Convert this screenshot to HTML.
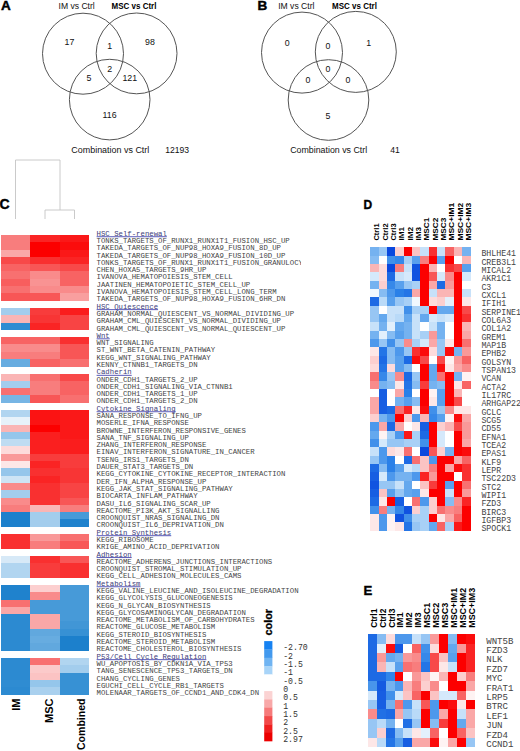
<!DOCTYPE html><html><head><meta charset="utf-8"><style>
html,body{margin:0;padding:0;background:#fff;}
body{width:520px;height:751px;overflow:hidden;position:relative;}
svg{position:absolute;left:0;top:0;}
.s{font-family:"Liberation Sans",sans-serif;}
.m{font-family:"Liberation Mono",monospace;}
</style></head><body>
<svg width="520" height="751" viewBox="0 0 520 751">
<circle cx="83" cy="53.7" r="40.5" fill="none" stroke="#555" stroke-width="1.0"/>
<circle cx="136.6" cy="53.4" r="40.4" fill="none" stroke="#555" stroke-width="1.0"/>
<circle cx="109.7" cy="99.6" r="40.3" fill="none" stroke="#555" stroke-width="1.0"/>
<circle cx="302" cy="52.6" r="40.5" fill="none" stroke="#555" stroke-width="1.0"/>
<circle cx="355.8" cy="51.9" r="40.5" fill="none" stroke="#555" stroke-width="1.0"/>
<circle cx="328.5" cy="100" r="40.3" fill="none" stroke="#555" stroke-width="1.0"/>
<text x="0.9" y="9.5" class="s" font-size="13.5" font-weight="bold" text-anchor="start" fill="#000" stroke="#000" stroke-width="0.45">A</text>
<text x="257.4" y="9.6" class="s" font-size="13.5" font-weight="bold" text-anchor="start" fill="#000" stroke="#000" stroke-width="0.45">B</text>
<text x="-0.5" y="208.8" class="s" font-size="14" font-weight="bold" text-anchor="start" fill="#000" stroke="#000" stroke-width="0.4">C</text>
<text x="363.5" y="209" class="s" font-size="12" font-weight="bold" text-anchor="start" fill="#000" stroke="#000" stroke-width="0.35">D</text>
<text x="363.6" y="595.2" class="s" font-size="13.2" font-weight="bold" text-anchor="start" fill="#000" stroke="#000" stroke-width="0.35">E</text>
<text x="58.5" y="8.5" class="s" font-size="8.6" font-weight="normal" text-anchor="start" fill="#111" >IM vs Ctrl</text>
<text x="111.6" y="8.8" class="s" font-size="8.9" font-weight="bold" text-anchor="start" fill="#000" textLength="44.8" lengthAdjust="spacingAndGlyphs">MSC vs Ctrl</text>
<text x="69.5" y="45.4" class="s" font-size="8.8" font-weight="normal" text-anchor="middle" fill="#111" >17</text>
<text x="109.6" y="48.5" class="s" font-size="8.8" font-weight="normal" text-anchor="middle" fill="#111" >1</text>
<text x="150" y="45.4" class="s" font-size="8.8" font-weight="normal" text-anchor="middle" fill="#111" >98</text>
<text x="109.6" y="71.6" class="s" font-size="8.8" font-weight="normal" text-anchor="middle" fill="#111" >2</text>
<text x="89" y="81.39999999999999" class="s" font-size="8.8" font-weight="normal" text-anchor="middle" fill="#111" >5</text>
<text x="129.8" y="81.39999999999999" class="s" font-size="8.8" font-weight="normal" text-anchor="middle" fill="#111" >121</text>
<text x="109.6" y="118.3" class="s" font-size="8.8" font-weight="normal" text-anchor="middle" fill="#111" >116</text>
<text x="71.3" y="153.2" class="s" font-size="8.9" font-weight="normal" text-anchor="start" fill="#111" textLength="78" lengthAdjust="spacingAndGlyphs">Combination vs Ctrl</text>
<text x="165.2" y="153.2" class="s" font-size="8.6" font-weight="normal" text-anchor="start" fill="#111" >12193</text>
<text x="278.2" y="8.7" class="s" font-size="8.6" font-weight="normal" text-anchor="start" fill="#111" >IM vs Ctrl</text>
<text x="332.1" y="8.8" class="s" font-size="8.9" font-weight="bold" text-anchor="start" fill="#000" textLength="44.8" lengthAdjust="spacingAndGlyphs">MSC vs Ctrl</text>
<text x="287.3" y="46.1" class="s" font-size="8.8" font-weight="normal" text-anchor="middle" fill="#111" >0</text>
<text x="328" y="48.6" class="s" font-size="8.8" font-weight="normal" text-anchor="middle" fill="#111" >0</text>
<text x="368.8" y="46.1" class="s" font-size="8.8" font-weight="normal" text-anchor="middle" fill="#111" >1</text>
<text x="328" y="72.3" class="s" font-size="8.8" font-weight="normal" text-anchor="middle" fill="#111" >0</text>
<text x="308" y="82.5" class="s" font-size="8.8" font-weight="normal" text-anchor="middle" fill="#111" >0</text>
<text x="348" y="82.5" class="s" font-size="8.8" font-weight="normal" text-anchor="middle" fill="#111" >0</text>
<text x="328" y="118.5" class="s" font-size="8.8" font-weight="normal" text-anchor="middle" fill="#111" >5</text>
<text x="290.2" y="153.3" class="s" font-size="8.9" font-weight="normal" text-anchor="start" fill="#111" textLength="77" lengthAdjust="spacingAndGlyphs">Combination vs Ctrl</text>
<text x="390.3" y="153.3" class="s" font-size="8.6" font-weight="normal" text-anchor="start" fill="#111" >41</text>
<path d="M15.5 219 V160 H60 V210 M45 219 V210 H74.5 V219" stroke="#c4c4c4" stroke-width="0.9" fill="none"/>
<g shape-rendering="crispEdges"><rect x="1.00" y="235.00" width="29.60" height="7.59" fill="#f87d7d"/><rect x="30.30" y="235.00" width="29.60" height="7.59" fill="#fa2424"/><rect x="59.60" y="235.00" width="29.60" height="7.59" fill="#fa1818"/><rect x="1.00" y="242.29" width="29.60" height="7.59" fill="#f87d7d"/><rect x="30.30" y="242.29" width="29.60" height="7.59" fill="#fc0000"/><rect x="59.60" y="242.29" width="29.60" height="7.59" fill="#fb0c0c"/><rect x="1.00" y="249.58" width="29.60" height="7.59" fill="#faa7a7"/><rect x="30.30" y="249.58" width="29.60" height="7.59" fill="#fc0000"/><rect x="59.60" y="249.58" width="29.60" height="7.59" fill="#fa1818"/><rect x="1.00" y="256.88" width="29.60" height="7.59" fill="#f84949"/><rect x="30.30" y="256.88" width="29.60" height="7.59" fill="#f93030"/><rect x="59.60" y="256.88" width="29.60" height="7.59" fill="#fa2424"/><rect x="1.00" y="264.17" width="29.60" height="7.59" fill="#f86363"/><rect x="30.30" y="264.17" width="29.60" height="7.59" fill="#f85656"/><rect x="59.60" y="264.17" width="29.60" height="7.59" fill="#f84949"/><rect x="1.00" y="271.46" width="29.60" height="7.59" fill="#f87070"/><rect x="30.30" y="271.46" width="29.60" height="7.59" fill="#f98b8b"/><rect x="59.60" y="271.46" width="29.60" height="7.59" fill="#f86363"/><rect x="1.00" y="278.75" width="29.60" height="7.59" fill="#f85e5e"/><rect x="30.30" y="278.75" width="29.60" height="7.59" fill="#f99393"/><rect x="59.60" y="278.75" width="29.60" height="7.59" fill="#f86363"/><rect x="1.00" y="286.04" width="29.60" height="7.59" fill="#f87070"/><rect x="30.30" y="286.04" width="29.60" height="7.59" fill="#f98b8b"/><rect x="59.60" y="286.04" width="29.60" height="7.59" fill="#f98b8b"/><rect x="1.00" y="293.34" width="29.60" height="7.59" fill="#f85656"/><rect x="30.30" y="293.34" width="29.60" height="7.59" fill="#f85656"/><rect x="59.60" y="293.34" width="29.60" height="7.59" fill="#f99f9f"/><rect x="1.00" y="307.92" width="29.60" height="7.59" fill="#a3cded"/><rect x="30.30" y="307.92" width="29.60" height="7.59" fill="#f83c3c"/><rect x="59.60" y="307.92" width="29.60" height="7.59" fill="#fa1d1d"/><rect x="1.00" y="315.21" width="29.60" height="7.59" fill="#fab5b5"/><rect x="30.30" y="315.21" width="29.60" height="7.59" fill="#f83535"/><rect x="59.60" y="315.21" width="29.60" height="7.59" fill="#f84444"/><rect x="1.00" y="322.50" width="29.60" height="7.59" fill="#2f8cd2"/><rect x="30.30" y="322.50" width="29.60" height="7.59" fill="#fa2424"/><rect x="59.60" y="322.50" width="29.60" height="7.59" fill="#f84444"/><rect x="1.00" y="337.09" width="29.60" height="7.59" fill="#f86363"/><rect x="30.30" y="337.09" width="29.60" height="7.59" fill="#f86363"/><rect x="59.60" y="337.09" width="29.60" height="7.59" fill="#f93030"/><rect x="1.00" y="344.38" width="29.60" height="7.59" fill="#f98b8b"/><rect x="30.30" y="344.38" width="29.60" height="7.59" fill="#f98b8b"/><rect x="59.60" y="344.38" width="29.60" height="7.59" fill="#f85656"/><rect x="1.00" y="351.67" width="29.60" height="7.59" fill="#f87d7d"/><rect x="30.30" y="351.67" width="29.60" height="7.59" fill="#f87d7d"/><rect x="59.60" y="351.67" width="29.60" height="7.59" fill="#f85656"/><rect x="1.00" y="358.96" width="29.60" height="7.59" fill="#67ace0"/><rect x="30.30" y="358.96" width="29.60" height="7.59" fill="#f86363"/><rect x="59.60" y="358.96" width="29.60" height="7.59" fill="#f87070"/><rect x="1.00" y="373.55" width="29.60" height="7.59" fill="#fab5b5"/><rect x="30.30" y="373.55" width="29.60" height="7.59" fill="#f87070"/><rect x="59.60" y="373.55" width="29.60" height="7.59" fill="#f84949"/><rect x="1.00" y="380.84" width="29.60" height="7.59" fill="#a3cded"/><rect x="30.30" y="380.84" width="29.60" height="7.59" fill="#f87d7d"/><rect x="59.60" y="380.84" width="29.60" height="7.59" fill="#f86363"/><rect x="1.00" y="388.13" width="29.60" height="7.59" fill="#f87070"/><rect x="30.30" y="388.13" width="29.60" height="7.59" fill="#f87d7d"/><rect x="59.60" y="388.13" width="29.60" height="7.59" fill="#f86363"/><rect x="1.00" y="395.42" width="29.60" height="7.59" fill="#77b5e4"/><rect x="30.30" y="395.42" width="29.60" height="7.59" fill="#f85656"/><rect x="59.60" y="395.42" width="29.60" height="7.59" fill="#f87070"/><rect x="1.00" y="410.01" width="29.60" height="7.59" fill="#b1d5f0"/><rect x="30.30" y="410.01" width="29.60" height="7.59" fill="#fb1313"/><rect x="59.60" y="410.01" width="29.60" height="7.59" fill="#fa1818"/><rect x="1.00" y="417.30" width="29.60" height="7.59" fill="#e7f2fa"/><rect x="30.30" y="417.30" width="29.60" height="7.59" fill="#fb1313"/><rect x="59.60" y="417.30" width="29.60" height="7.59" fill="#fa1818"/><rect x="1.00" y="424.59" width="29.60" height="7.59" fill="#fab5b5"/><rect x="30.30" y="424.59" width="29.60" height="7.59" fill="#fc0000"/><rect x="59.60" y="424.59" width="29.60" height="7.59" fill="#fa1818"/><rect x="1.00" y="431.88" width="29.60" height="7.59" fill="#95c6eb"/><rect x="30.30" y="431.88" width="29.60" height="7.59" fill="#fa1f1f"/><rect x="59.60" y="431.88" width="29.60" height="7.59" fill="#fa1818"/><rect x="1.00" y="439.18" width="29.60" height="7.59" fill="#bfdcf2"/><rect x="30.30" y="439.18" width="29.60" height="7.59" fill="#fa1f1f"/><rect x="59.60" y="439.18" width="29.60" height="7.59" fill="#fa1d1d"/><rect x="1.00" y="446.47" width="29.60" height="7.59" fill="#fddbdb"/><rect x="30.30" y="446.47" width="29.60" height="7.59" fill="#fa1f1f"/><rect x="59.60" y="446.47" width="29.60" height="7.59" fill="#fa1d1d"/><rect x="1.00" y="453.76" width="29.60" height="7.59" fill="#f99999"/><rect x="30.30" y="453.76" width="29.60" height="7.59" fill="#f83c3c"/><rect x="59.60" y="453.76" width="29.60" height="7.59" fill="#f83c3c"/><rect x="1.00" y="461.05" width="29.60" height="7.59" fill="#fde7e7"/><rect x="30.30" y="461.05" width="29.60" height="7.59" fill="#fa2424"/><rect x="59.60" y="461.05" width="29.60" height="7.59" fill="#f83c3c"/><rect x="1.00" y="468.34" width="29.60" height="7.59" fill="#95c6eb"/><rect x="30.30" y="468.34" width="29.60" height="7.59" fill="#f93030"/><rect x="59.60" y="468.34" width="29.60" height="7.59" fill="#f83535"/><rect x="1.00" y="475.64" width="29.60" height="7.59" fill="#cde4f5"/><rect x="30.30" y="475.64" width="29.60" height="7.59" fill="#fa2424"/><rect x="59.60" y="475.64" width="29.60" height="7.59" fill="#f83535"/><rect x="1.00" y="482.93" width="29.60" height="7.59" fill="#f98b8b"/><rect x="30.30" y="482.93" width="29.60" height="7.59" fill="#f93030"/><rect x="59.60" y="482.93" width="29.60" height="7.59" fill="#f84444"/><rect x="1.00" y="490.22" width="29.60" height="7.59" fill="#a3cded"/><rect x="30.30" y="490.22" width="29.60" height="7.59" fill="#f93030"/><rect x="59.60" y="490.22" width="29.60" height="7.59" fill="#f84444"/><rect x="1.00" y="497.51" width="29.60" height="7.59" fill="#f98b8b"/><rect x="30.30" y="497.51" width="29.60" height="7.59" fill="#f93030"/><rect x="59.60" y="497.51" width="29.60" height="7.59" fill="#f85656"/><rect x="1.00" y="504.80" width="29.60" height="7.59" fill="#f87d7d"/><rect x="30.30" y="504.80" width="29.60" height="7.59" fill="#fab5b5"/><rect x="59.60" y="504.80" width="29.60" height="7.59" fill="#f87d7d"/><rect x="1.00" y="512.10" width="29.60" height="7.59" fill="#1c80cc"/><rect x="30.30" y="512.10" width="29.60" height="7.59" fill="#a3cded"/><rect x="59.60" y="512.10" width="29.60" height="7.59" fill="#479ad8"/><rect x="1.00" y="519.39" width="29.60" height="7.59" fill="#1c80cc"/><rect x="30.30" y="519.39" width="29.60" height="7.59" fill="#a3cded"/><rect x="59.60" y="519.39" width="29.60" height="7.59" fill="#1f82cd"/><rect x="1.00" y="533.97" width="29.60" height="7.59" fill="#f93030"/><rect x="30.30" y="533.97" width="29.60" height="7.59" fill="#f99999"/><rect x="59.60" y="533.97" width="29.60" height="7.59" fill="#f87070"/><rect x="1.00" y="541.26" width="29.60" height="7.59" fill="#f93030"/><rect x="30.30" y="541.26" width="29.60" height="7.59" fill="#f87d7d"/><rect x="59.60" y="541.26" width="29.60" height="7.59" fill="#f85656"/><rect x="1.00" y="555.85" width="29.60" height="7.59" fill="#d7e9f7"/><rect x="30.30" y="555.85" width="29.60" height="7.59" fill="#f93030"/><rect x="59.60" y="555.85" width="29.60" height="7.59" fill="#f85656"/><rect x="1.00" y="563.14" width="29.60" height="7.59" fill="#b1d5f0"/><rect x="30.30" y="563.14" width="29.60" height="7.59" fill="#f83c3c"/><rect x="59.60" y="563.14" width="29.60" height="7.59" fill="#f93030"/><rect x="1.00" y="570.43" width="29.60" height="7.59" fill="#b1d5f0"/><rect x="30.30" y="570.43" width="29.60" height="7.59" fill="#f83c3c"/><rect x="59.60" y="570.43" width="29.60" height="7.59" fill="#f93030"/><rect x="1.00" y="585.02" width="29.60" height="7.59" fill="#1f82cd"/><rect x="30.30" y="585.02" width="29.60" height="7.59" fill="#fccfcf"/><rect x="59.60" y="585.02" width="29.60" height="7.59" fill="#479ad8"/><rect x="1.00" y="592.31" width="29.60" height="7.59" fill="#1f82cd"/><rect x="30.30" y="592.31" width="29.60" height="7.59" fill="#f98b8b"/><rect x="59.60" y="592.31" width="29.60" height="7.59" fill="#479ad8"/><rect x="1.00" y="599.60" width="29.60" height="7.59" fill="#f87070"/><rect x="30.30" y="599.60" width="29.60" height="7.59" fill="#479ad8"/><rect x="59.60" y="599.60" width="29.60" height="7.59" fill="#479ad8"/><rect x="1.00" y="606.89" width="29.60" height="7.59" fill="#faa7a7"/><rect x="30.30" y="606.89" width="29.60" height="7.59" fill="#479ad8"/><rect x="59.60" y="606.89" width="29.60" height="7.59" fill="#479ad8"/><rect x="1.00" y="614.18" width="29.60" height="7.59" fill="#2c8ad1"/><rect x="30.30" y="614.18" width="29.60" height="7.59" fill="#faa7a7"/><rect x="59.60" y="614.18" width="29.60" height="7.59" fill="#479ad8"/><rect x="1.00" y="621.48" width="29.60" height="7.59" fill="#2c8ad1"/><rect x="30.30" y="621.48" width="29.60" height="7.59" fill="#faa7a7"/><rect x="59.60" y="621.48" width="29.60" height="7.59" fill="#4196d6"/><rect x="1.00" y="628.77" width="29.60" height="7.59" fill="#2c8ad1"/><rect x="30.30" y="628.77" width="29.60" height="7.59" fill="#61a8de"/><rect x="59.60" y="628.77" width="29.60" height="7.59" fill="#3791d4"/><rect x="1.00" y="636.06" width="29.60" height="7.59" fill="#2c8ad1"/><rect x="30.30" y="636.06" width="29.60" height="7.59" fill="#67ace0"/><rect x="59.60" y="636.06" width="29.60" height="7.59" fill="#1c80cc"/><rect x="1.00" y="643.35" width="29.60" height="7.59" fill="#2c8ad1"/><rect x="30.30" y="643.35" width="29.60" height="7.59" fill="#61a8de"/><rect x="59.60" y="643.35" width="29.60" height="7.59" fill="#1c80cc"/><rect x="1.00" y="657.94" width="29.60" height="7.59" fill="#2c8ad1"/><rect x="30.30" y="657.94" width="29.60" height="7.59" fill="#f87070"/><rect x="59.60" y="657.94" width="29.60" height="7.59" fill="#b1d5f0"/><rect x="1.00" y="665.23" width="29.60" height="7.59" fill="#2c8ad1"/><rect x="30.30" y="665.23" width="29.60" height="7.59" fill="#fbcaca"/><rect x="59.60" y="665.23" width="29.60" height="7.59" fill="#a3cded"/><rect x="1.00" y="672.52" width="29.60" height="7.59" fill="#2c8ad1"/><rect x="30.30" y="672.52" width="29.60" height="7.59" fill="#fbc3c3"/><rect x="59.60" y="672.52" width="29.60" height="7.59" fill="#3791d4"/><rect x="1.00" y="679.81" width="29.60" height="7.59" fill="#2f8cd2"/><rect x="30.30" y="679.81" width="29.60" height="7.59" fill="#95c6eb"/><rect x="59.60" y="679.81" width="29.60" height="7.59" fill="#3791d4"/><rect x="1.00" y="687.10" width="29.60" height="7.59" fill="#2c8ad1"/><rect x="30.30" y="687.10" width="29.60" height="7.59" fill="#a9d0ee"/><rect x="59.60" y="687.10" width="29.60" height="7.59" fill="#3791d4"/></g>
<svg x="0" y="0" width="301" height="751" overflow="hidden"><text x="96.6" y="235.70" class="m" font-size="6.6" fill="#3c3c78" textLength="70.24" lengthAdjust="spacingAndGlyphs">HSC Self-renewal</text><rect x="96.6" y="236.30" width="70.24" height="0.9" fill="#4848b0"/><text x="96.6" y="242.99" class="m" font-size="6.6" fill="#444" textLength="193.16" lengthAdjust="spacingAndGlyphs">TONKS_TARGETS_OF_RUNX1_RUNX1T1_FUSION_HSC_UP</text><text x="96.6" y="250.28" class="m" font-size="6.6" fill="#444" textLength="184.38" lengthAdjust="spacingAndGlyphs">TAKEDA_TARGETS_OF_NUP98_HOXA9_FUSION_8D_UP</text><text x="96.6" y="257.58" class="m" font-size="6.6" fill="#444" textLength="188.77" lengthAdjust="spacingAndGlyphs">TAKEDA_TARGETS_OF_NUP98_HOXA9_FUSION_10D_UP</text><text x="96.6" y="264.87" class="m" font-size="6.6" fill="#444" textLength="228.28" lengthAdjust="spacingAndGlyphs">TONKS_TARGETS_OF_RUNX1_RUNX1T1_FUSION_GRANULOCYTE_UP</text><text x="96.6" y="272.16" class="m" font-size="6.6" fill="#444" textLength="109.75" lengthAdjust="spacingAndGlyphs">CHEN_HOXA5_TARGETS_9HR_UP</text><text x="96.6" y="279.45" class="m" font-size="6.6" fill="#444" textLength="136.09" lengthAdjust="spacingAndGlyphs">IVANOVA_HEMATOPOIESIS_STEM_CELL</text><text x="96.6" y="286.74" class="m" font-size="6.6" fill="#444" textLength="153.65" lengthAdjust="spacingAndGlyphs">JAATINEN_HEMATOPOIETIC_STEM_CELL_UP</text><text x="96.6" y="294.04" class="m" font-size="6.6" fill="#444" textLength="179.99" lengthAdjust="spacingAndGlyphs">IVANOVA_HEMATOPOIESIS_STEM_CELL_LONG_TERM</text><text x="96.6" y="301.33" class="m" font-size="6.6" fill="#444" textLength="188.77" lengthAdjust="spacingAndGlyphs">TAKEDA_TARGETS_OF_NUP98_HOXA9_FUSION_6HR_DN</text><text x="96.6" y="308.62" class="m" font-size="6.6" fill="#3c3c78" textLength="61.46" lengthAdjust="spacingAndGlyphs">HSC Quiescence</text><rect x="96.6" y="309.22" width="61.46" height="0.9" fill="#4848b0"/><text x="96.6" y="315.91" class="m" font-size="6.6" fill="#444" textLength="197.55" lengthAdjust="spacingAndGlyphs">GRAHAM_NORMAL_QUIESCENT_VS_NORMAL_DIVIDING_UP</text><text x="96.6" y="323.20" class="m" font-size="6.6" fill="#444" textLength="184.38" lengthAdjust="spacingAndGlyphs">GRAHAM_CML_QUIESCENT_VS_NORMAL_DIVIDING_UP</text><text x="96.6" y="330.50" class="m" font-size="6.6" fill="#444" textLength="188.77" lengthAdjust="spacingAndGlyphs">GRAHAM_CML_QUIESCENT_VS_NORMAL_QUIESCENT_UP</text><text x="96.6" y="337.79" class="m" font-size="6.6" fill="#3c3c78" textLength="13.17" lengthAdjust="spacingAndGlyphs">Wnt</text><rect x="96.6" y="338.39" width="13.17" height="0.9" fill="#4848b0"/><text x="96.6" y="345.08" class="m" font-size="6.6" fill="#444" textLength="57.07" lengthAdjust="spacingAndGlyphs">WNT_SIGNALING</text><text x="96.6" y="352.37" class="m" font-size="6.6" fill="#444" textLength="118.53" lengthAdjust="spacingAndGlyphs">ST_WNT_BETA_CATENIN_PATHWAY</text><text x="96.6" y="359.66" class="m" font-size="6.6" fill="#444" textLength="114.14" lengthAdjust="spacingAndGlyphs">KEGG_WNT_SIGNALING_PATHWAY</text><text x="96.6" y="366.96" class="m" font-size="6.6" fill="#444" textLength="100.97" lengthAdjust="spacingAndGlyphs">KENNY_CTNNB1_TARGETS_DN</text><text x="96.6" y="374.25" class="m" font-size="6.6" fill="#3c3c78" textLength="35.12" lengthAdjust="spacingAndGlyphs">Cadherin</text><rect x="96.6" y="374.85" width="35.12" height="0.9" fill="#4848b0"/><text x="96.6" y="381.54" class="m" font-size="6.6" fill="#444" textLength="100.97" lengthAdjust="spacingAndGlyphs">ONDER_CDH1_TARGETS_2_UP</text><text x="96.6" y="388.83" class="m" font-size="6.6" fill="#444" textLength="136.09" lengthAdjust="spacingAndGlyphs">ONDER_CDH1_SIGNALING_VIA_CTNNB1</text><text x="96.6" y="396.12" class="m" font-size="6.6" fill="#444" textLength="100.97" lengthAdjust="spacingAndGlyphs">ONDER_CDH1_TARGETS_1_UP</text><text x="96.6" y="403.42" class="m" font-size="6.6" fill="#444" textLength="100.97" lengthAdjust="spacingAndGlyphs">ONDER_CDH1_TARGETS_2_DN</text><text x="96.6" y="410.71" class="m" font-size="6.6" fill="#3c3c78" textLength="79.02" lengthAdjust="spacingAndGlyphs">Cytokine Signaling</text><rect x="96.6" y="411.31" width="79.02" height="0.9" fill="#4848b0"/><text x="96.6" y="418.00" class="m" font-size="6.6" fill="#444" textLength="105.36" lengthAdjust="spacingAndGlyphs">SANA_RESPONSE_TO_IFNG_UP</text><text x="96.6" y="425.29" class="m" font-size="6.6" fill="#444" textLength="92.19" lengthAdjust="spacingAndGlyphs">MOSERLE_IFNA_RESPONSE</text><text x="96.6" y="432.58" class="m" font-size="6.6" fill="#444" textLength="149.26" lengthAdjust="spacingAndGlyphs">BROWNE_INTERFERON_RESPONSIVE_GENES</text><text x="96.6" y="439.88" class="m" font-size="6.6" fill="#444" textLength="92.19" lengthAdjust="spacingAndGlyphs">SANA_TNF_SIGNALING_UP</text><text x="96.6" y="447.17" class="m" font-size="6.6" fill="#444" textLength="109.75" lengthAdjust="spacingAndGlyphs">ZHANG_INTERFERON_RESPONSE</text><text x="96.6" y="454.46" class="m" font-size="6.6" fill="#444" textLength="158.04" lengthAdjust="spacingAndGlyphs">EINAV_INTERFERON_SIGNATURE_IN_CANCER</text><text x="96.6" y="461.75" class="m" font-size="6.6" fill="#444" textLength="92.19" lengthAdjust="spacingAndGlyphs">TSENG_IRS1_TARGETS_DN</text><text x="96.6" y="469.04" class="m" font-size="6.6" fill="#444" textLength="96.58" lengthAdjust="spacingAndGlyphs">DAUER_STAT3_TARGETS_DN</text><text x="96.6" y="476.34" class="m" font-size="6.6" fill="#444" textLength="188.77" lengthAdjust="spacingAndGlyphs">KEGG_CYTOKINE_CYTOKINE_RECEPTOR_INTERACTION</text><text x="96.6" y="483.63" class="m" font-size="6.6" fill="#444" textLength="109.75" lengthAdjust="spacingAndGlyphs">DER_IFN_ALPHA_RESPONSE_UP</text><text x="96.6" y="490.92" class="m" font-size="6.6" fill="#444" textLength="136.09" lengthAdjust="spacingAndGlyphs">KEGG_JAK_STAT_SIGNALING_PATHWAY</text><text x="96.6" y="498.21" class="m" font-size="6.6" fill="#444" textLength="100.97" lengthAdjust="spacingAndGlyphs">BIOCARTA_INFLAM_PATHWAY</text><text x="96.6" y="505.50" class="m" font-size="6.6" fill="#444" textLength="114.14" lengthAdjust="spacingAndGlyphs">DASU_IL6_SIGNALING_SCAR_UP</text><text x="96.6" y="512.80" class="m" font-size="6.6" fill="#444" textLength="122.92" lengthAdjust="spacingAndGlyphs">REACTOME_PI3K_AKT_SIGNALLING</text><text x="96.6" y="520.09" class="m" font-size="6.6" fill="#444" textLength="122.92" lengthAdjust="spacingAndGlyphs">CROONQUIST_NRAS_SIGNALING_DN</text><text x="96.6" y="527.38" class="m" font-size="6.6" fill="#444" textLength="127.31" lengthAdjust="spacingAndGlyphs">CROONQUIST_IL6_DEPRIVATION_DN</text><text x="96.6" y="534.67" class="m" font-size="6.6" fill="#3c3c78" textLength="74.63" lengthAdjust="spacingAndGlyphs">Protein Synthesis</text><rect x="96.6" y="535.27" width="74.63" height="0.9" fill="#4848b0"/><text x="96.6" y="541.96" class="m" font-size="6.6" fill="#444" textLength="57.07" lengthAdjust="spacingAndGlyphs">KEGG_RIBOSOME</text><text x="96.6" y="549.26" class="m" font-size="6.6" fill="#444" textLength="122.92" lengthAdjust="spacingAndGlyphs">KRIGE_AMINO_ACID_DEPRIVATION</text><text x="96.6" y="556.55" class="m" font-size="6.6" fill="#3c3c78" textLength="35.12" lengthAdjust="spacingAndGlyphs">Adhesion</text><rect x="96.6" y="557.15" width="35.12" height="0.9" fill="#4848b0"/><text x="96.6" y="563.84" class="m" font-size="6.6" fill="#444" textLength="175.60" lengthAdjust="spacingAndGlyphs">REACTOME_ADHERENS_JUNCTIONS_INTERACTIONS</text><text x="96.6" y="571.13" class="m" font-size="6.6" fill="#444" textLength="144.87" lengthAdjust="spacingAndGlyphs">CROONQUIST_STROMAL_STIMULATION_UP</text><text x="96.6" y="578.42" class="m" font-size="6.6" fill="#444" textLength="144.87" lengthAdjust="spacingAndGlyphs">KEGG_CELL_ADHESION_MOLECULES_CAMS</text><text x="96.6" y="585.72" class="m" font-size="6.6" fill="#3c3c78" textLength="43.90" lengthAdjust="spacingAndGlyphs">Metabolism</text><rect x="96.6" y="586.32" width="43.90" height="0.9" fill="#4848b0"/><text x="96.6" y="593.01" class="m" font-size="6.6" fill="#444" textLength="201.94" lengthAdjust="spacingAndGlyphs">KEGG_VALINE_LEUCINE_AND_ISOLEUCINE_DEGRADATION</text><text x="96.6" y="600.30" class="m" font-size="6.6" fill="#444" textLength="136.09" lengthAdjust="spacingAndGlyphs">KEGG_GLYCOLYSIS_GLUCONEOGENESIS</text><text x="96.6" y="607.59" class="m" font-size="6.6" fill="#444" textLength="114.14" lengthAdjust="spacingAndGlyphs">KEGG_N_GLYCAN_BIOSYNTHESIS</text><text x="96.6" y="614.88" class="m" font-size="6.6" fill="#444" textLength="149.26" lengthAdjust="spacingAndGlyphs">KEGG_GLYCOSAMINOGLYCAN_DEGRADATION</text><text x="96.6" y="622.18" class="m" font-size="6.6" fill="#444" textLength="158.04" lengthAdjust="spacingAndGlyphs">REACTOME_METABOLISM_OF_CARBOHYDRATES</text><text x="96.6" y="629.47" class="m" font-size="6.6" fill="#444" textLength="118.53" lengthAdjust="spacingAndGlyphs">REACTOME_GLUCOSE_METABOLISM</text><text x="96.6" y="636.76" class="m" font-size="6.6" fill="#444" textLength="109.75" lengthAdjust="spacingAndGlyphs">KEGG_STEROID_BIOSYNTHESIS</text><text x="96.6" y="644.05" class="m" font-size="6.6" fill="#444" textLength="118.53" lengthAdjust="spacingAndGlyphs">REACTOME_STEROID_METABOLISM</text><text x="96.6" y="651.34" class="m" font-size="6.6" fill="#444" textLength="144.87" lengthAdjust="spacingAndGlyphs">REACTOME_CHOLESTEROL_BIOSYNTHESIS</text><text x="96.6" y="658.64" class="m" font-size="6.6" fill="#3c3c78" textLength="109.75" lengthAdjust="spacingAndGlyphs">P53/Cell Cycle Regulation</text><rect x="96.6" y="659.24" width="109.75" height="0.9" fill="#4848b0"/><text x="96.6" y="665.93" class="m" font-size="6.6" fill="#444" textLength="136.09" lengthAdjust="spacingAndGlyphs">WU_APOPTOSIS_BY_CDKN1A_VIA_TP53</text><text x="96.6" y="673.22" class="m" font-size="6.6" fill="#444" textLength="136.09" lengthAdjust="spacingAndGlyphs">TANG_SENESCENCE_TP53_TARGETS_DN</text><text x="96.6" y="680.51" class="m" font-size="6.6" fill="#444" textLength="83.41" lengthAdjust="spacingAndGlyphs">CHANG_CYCLING_GENES</text><text x="96.6" y="687.80" class="m" font-size="6.6" fill="#444" textLength="127.31" lengthAdjust="spacingAndGlyphs">EGUCHI_CELL_CYCLE_RB1_TARGETS</text><text x="96.6" y="695.10" class="m" font-size="6.6" fill="#444" textLength="162.43" lengthAdjust="spacingAndGlyphs">MOLENAAR_TARGETS_OF_CCND1_AND_CDK4_DN</text></svg>
<text x="0" y="0" class="s" font-size="11" font-weight="bold" text-anchor="end" fill="#000" transform="translate(19.5,698.5) rotate(-90)">IM</text>
<text x="0" y="0" class="s" font-size="11" font-weight="bold" text-anchor="end" fill="#000" transform="translate(52.5,698.5) rotate(-90)">MSC</text>
<text x="0" y="0" class="s" font-size="11" font-weight="bold" text-anchor="end" fill="#000" textLength="51.5" lengthAdjust="spacingAndGlyphs" transform="translate(84.8,698.5) rotate(-90)">Combined</text>
<rect x="264.2" y="641.10" width="8.2" height="8.6" fill="#1682f2"/>
<rect x="264.2" y="649.43" width="8.2" height="8.6" fill="#4299ee"/>
<rect x="264.2" y="657.76" width="8.2" height="8.6" fill="#70b4f2"/>
<rect x="264.2" y="666.09" width="8.2" height="8.6" fill="#a8d4f8"/>
<rect x="264.2" y="674.42" width="8.2" height="8.6" fill="#ffffff"/>
<rect x="264.2" y="682.75" width="8.2" height="8.6" fill="#ffffff"/>
<rect x="264.2" y="691.08" width="8.2" height="8.6" fill="#fbd3d3"/>
<rect x="264.2" y="699.41" width="8.2" height="8.6" fill="#f8a8a8"/>
<rect x="264.2" y="707.74" width="8.2" height="8.6" fill="#f67a7a"/>
<rect x="264.2" y="716.07" width="8.2" height="8.6" fill="#f24848"/>
<rect x="264.2" y="724.40" width="8.2" height="8.6" fill="#ef1e1e"/>
<rect x="264.2" y="732.73" width="8.2" height="8.6" fill="#ec0000"/>
<text x="283.2" y="650.30" class="m" font-size="8.2" font-weight="normal" text-anchor="start" fill="#333" >-2.70</text>
<text x="283.2" y="658.63" class="m" font-size="8.2" font-weight="normal" text-anchor="start" fill="#333" >-2</text>
<text x="283.2" y="666.96" class="m" font-size="8.2" font-weight="normal" text-anchor="start" fill="#333" >-1.5</text>
<text x="283.2" y="675.29" class="m" font-size="8.2" font-weight="normal" text-anchor="start" fill="#333" >-1</text>
<text x="283.2" y="683.62" class="m" font-size="8.2" font-weight="normal" text-anchor="start" fill="#333" >-0.5</text>
<text x="283.2" y="691.95" class="m" font-size="8.2" font-weight="normal" text-anchor="start" fill="#333" >0</text>
<text x="283.2" y="700.28" class="m" font-size="8.2" font-weight="normal" text-anchor="start" fill="#333" >0.5</text>
<text x="283.2" y="708.61" class="m" font-size="8.2" font-weight="normal" text-anchor="start" fill="#333" >1</text>
<text x="283.2" y="716.94" class="m" font-size="8.2" font-weight="normal" text-anchor="start" fill="#333" >1.5</text>
<text x="283.2" y="725.27" class="m" font-size="8.2" font-weight="normal" text-anchor="start" fill="#333" >2</text>
<text x="283.2" y="733.60" class="m" font-size="8.2" font-weight="normal" text-anchor="start" fill="#333" >2.5</text>
<text x="283.2" y="741.93" class="m" font-size="8.2" font-weight="normal" text-anchor="start" fill="#333" >2.97</text>
<text x="0" y="0" class="s" font-size="10.4" font-weight="bold" text-anchor="start" fill="#000" stroke="#000" stroke-width="0.3" textLength="26.6" lengthAdjust="spacingAndGlyphs" transform="translate(272.1,635.5) rotate(-90)">color</text>
<g shape-rendering="crispEdges"><rect x="370.40" y="247.30" width="8.63" height="8.64" fill="#75b2f0"/><rect x="378.73" y="247.30" width="8.63" height="8.64" fill="#97c6f4"/><rect x="387.06" y="247.30" width="8.63" height="8.64" fill="#0a48de"/><rect x="395.39" y="247.30" width="8.63" height="8.64" fill="#fccfcf"/><rect x="403.72" y="247.30" width="8.63" height="8.64" fill="#fc0000"/><rect x="412.05" y="247.30" width="8.63" height="8.64" fill="#fbc3c3"/><rect x="420.38" y="247.30" width="8.63" height="8.64" fill="#c7e1f9"/><rect x="428.71" y="247.30" width="8.63" height="8.64" fill="#f93030"/><rect x="437.04" y="247.30" width="8.63" height="8.64" fill="#c7e1f9"/><rect x="445.37" y="247.30" width="8.63" height="8.64" fill="#f86363"/><rect x="453.70" y="247.30" width="8.63" height="8.64" fill="#fab5b5"/><rect x="462.03" y="247.30" width="8.63" height="8.64" fill="#75b2f0"/><rect x="370.40" y="255.64" width="8.63" height="8.64" fill="#86bcf2"/><rect x="378.73" y="255.64" width="8.63" height="8.64" fill="#ffffff"/><rect x="387.06" y="255.64" width="8.63" height="8.64" fill="#4190ea"/><rect x="395.39" y="255.64" width="8.63" height="8.64" fill="#3688e9"/><rect x="403.72" y="255.64" width="8.63" height="8.64" fill="#a8d0f6"/><rect x="412.05" y="255.64" width="8.63" height="8.64" fill="#58a0ed"/><rect x="420.38" y="255.64" width="8.63" height="8.64" fill="#f87d7d"/><rect x="428.71" y="255.64" width="8.63" height="8.64" fill="#fc0000"/><rect x="437.04" y="255.64" width="8.63" height="8.64" fill="#58a0ed"/><rect x="445.37" y="255.64" width="8.63" height="8.64" fill="#fc0000"/><rect x="453.70" y="255.64" width="8.63" height="8.64" fill="#ffffff"/><rect x="462.03" y="255.64" width="8.63" height="8.64" fill="#fab5b5"/><rect x="370.40" y="263.97" width="8.63" height="8.64" fill="#fab5b5"/><rect x="378.73" y="263.97" width="8.63" height="8.64" fill="#fddbdb"/><rect x="387.06" y="263.97" width="8.63" height="8.64" fill="#0a48de"/><rect x="395.39" y="263.97" width="8.63" height="8.64" fill="#f87d7d"/><rect x="403.72" y="263.97" width="8.63" height="8.64" fill="#c7e1f9"/><rect x="412.05" y="263.97" width="8.63" height="8.64" fill="#1053e0"/><rect x="420.38" y="263.97" width="8.63" height="8.64" fill="#fc0000"/><rect x="428.71" y="263.97" width="8.63" height="8.64" fill="#fab5b5"/><rect x="437.04" y="263.97" width="8.63" height="8.64" fill="#ffffff"/><rect x="445.37" y="263.97" width="8.63" height="8.64" fill="#f93030"/><rect x="453.70" y="263.97" width="8.63" height="8.64" fill="#f84949"/><rect x="462.03" y="263.97" width="8.63" height="8.64" fill="#58a0ed"/><rect x="370.40" y="272.31" width="8.63" height="8.64" fill="#d5e9fb"/><rect x="378.73" y="272.31" width="8.63" height="8.64" fill="#fddbdb"/><rect x="387.06" y="272.31" width="8.63" height="8.64" fill="#1d6ae4"/><rect x="395.39" y="272.31" width="8.63" height="8.64" fill="#c7e1f9"/><rect x="403.72" y="272.31" width="8.63" height="8.64" fill="#d5e9fb"/><rect x="412.05" y="272.31" width="8.63" height="8.64" fill="#1053e0"/><rect x="420.38" y="272.31" width="8.63" height="8.64" fill="#fc0000"/><rect x="428.71" y="272.31" width="8.63" height="8.64" fill="#f85656"/><rect x="437.04" y="272.31" width="8.63" height="8.64" fill="#d5e9fb"/><rect x="445.37" y="272.31" width="8.63" height="8.64" fill="#f98b8b"/><rect x="453.70" y="272.31" width="8.63" height="8.64" fill="#fc0000"/><rect x="462.03" y="272.31" width="8.63" height="8.64" fill="#d5e9fb"/><rect x="370.40" y="280.64" width="8.63" height="8.64" fill="#75b2f0"/><rect x="378.73" y="280.64" width="8.63" height="8.64" fill="#fccfcf"/><rect x="387.06" y="280.64" width="8.63" height="8.64" fill="#3688e9"/><rect x="395.39" y="280.64" width="8.63" height="8.64" fill="#58a0ed"/><rect x="403.72" y="280.64" width="8.63" height="8.64" fill="#97c6f4"/><rect x="412.05" y="280.64" width="8.63" height="8.64" fill="#a8d0f6"/><rect x="420.38" y="280.64" width="8.63" height="8.64" fill="#fc0000"/><rect x="428.71" y="280.64" width="8.63" height="8.64" fill="#faa7a7"/><rect x="437.04" y="280.64" width="8.63" height="8.64" fill="#1d6ae4"/><rect x="445.37" y="280.64" width="8.63" height="8.64" fill="#f99999"/><rect x="453.70" y="280.64" width="8.63" height="8.64" fill="#fc0000"/><rect x="462.03" y="280.64" width="8.63" height="8.64" fill="#ffffff"/><rect x="370.40" y="288.98" width="8.63" height="8.64" fill="#f1f8fe"/><rect x="378.73" y="288.98" width="8.63" height="8.64" fill="#86bcf2"/><rect x="387.06" y="288.98" width="8.63" height="8.64" fill="#4d98ec"/><rect x="395.39" y="288.98" width="8.63" height="8.64" fill="#2a80e8"/><rect x="403.72" y="288.98" width="8.63" height="8.64" fill="#2475e6"/><rect x="412.05" y="288.98" width="8.63" height="8.64" fill="#faa7a7"/><rect x="420.38" y="288.98" width="8.63" height="8.64" fill="#fc0000"/><rect x="428.71" y="288.98" width="8.63" height="8.64" fill="#c7e1f9"/><rect x="437.04" y="288.98" width="8.63" height="8.64" fill="#fab5b5"/><rect x="445.37" y="288.98" width="8.63" height="8.64" fill="#fab5b5"/><rect x="453.70" y="288.98" width="8.63" height="8.64" fill="#fc0000"/><rect x="462.03" y="288.98" width="8.63" height="8.64" fill="#c7e1f9"/><rect x="370.40" y="297.31" width="8.63" height="8.64" fill="#1d6ae4"/><rect x="378.73" y="297.31" width="8.63" height="8.64" fill="#b9daf8"/><rect x="387.06" y="297.31" width="8.63" height="8.64" fill="#58a0ed"/><rect x="395.39" y="297.31" width="8.63" height="8.64" fill="#97c6f4"/><rect x="403.72" y="297.31" width="8.63" height="8.64" fill="#a8d0f6"/><rect x="412.05" y="297.31" width="8.63" height="8.64" fill="#f1f8fe"/><rect x="420.38" y="297.31" width="8.63" height="8.64" fill="#fc0000"/><rect x="428.71" y="297.31" width="8.63" height="8.64" fill="#fddbdb"/><rect x="437.04" y="297.31" width="8.63" height="8.64" fill="#fccfcf"/><rect x="445.37" y="297.31" width="8.63" height="8.64" fill="#e3f0fc"/><rect x="453.70" y="297.31" width="8.63" height="8.64" fill="#fc0000"/><rect x="462.03" y="297.31" width="8.63" height="8.64" fill="#fde7e7"/><rect x="370.40" y="305.65" width="8.63" height="8.64" fill="#97c6f4"/><rect x="378.73" y="305.65" width="8.63" height="8.64" fill="#ffffff"/><rect x="387.06" y="305.65" width="8.63" height="8.64" fill="#c7e1f9"/><rect x="395.39" y="305.65" width="8.63" height="8.64" fill="#c7e1f9"/><rect x="403.72" y="305.65" width="8.63" height="8.64" fill="#4190ea"/><rect x="412.05" y="305.65" width="8.63" height="8.64" fill="#a8d0f6"/><rect x="420.38" y="305.65" width="8.63" height="8.64" fill="#a8d0f6"/><rect x="428.71" y="305.65" width="8.63" height="8.64" fill="#fc0000"/><rect x="437.04" y="305.65" width="8.63" height="8.64" fill="#64a8ee"/><rect x="445.37" y="305.65" width="8.63" height="8.64" fill="#64a8ee"/><rect x="453.70" y="305.65" width="8.63" height="8.64" fill="#fc0000"/><rect x="462.03" y="305.65" width="8.63" height="8.64" fill="#f84949"/><rect x="370.40" y="313.98" width="8.63" height="8.64" fill="#97c6f4"/><rect x="378.73" y="313.98" width="8.63" height="8.64" fill="#64a8ee"/><rect x="387.06" y="313.98" width="8.63" height="8.64" fill="#c7e1f9"/><rect x="395.39" y="313.98" width="8.63" height="8.64" fill="#b9daf8"/><rect x="403.72" y="313.98" width="8.63" height="8.64" fill="#64a8ee"/><rect x="412.05" y="313.98" width="8.63" height="8.64" fill="#c7e1f9"/><rect x="420.38" y="313.98" width="8.63" height="8.64" fill="#64a8ee"/><rect x="428.71" y="313.98" width="8.63" height="8.64" fill="#d5e9fb"/><rect x="437.04" y="313.98" width="8.63" height="8.64" fill="#c7e1f9"/><rect x="445.37" y="313.98" width="8.63" height="8.64" fill="#d5e9fb"/><rect x="453.70" y="313.98" width="8.63" height="8.64" fill="#fc0000"/><rect x="462.03" y="313.98" width="8.63" height="8.64" fill="#f93030"/><rect x="370.40" y="322.32" width="8.63" height="8.64" fill="#c7e1f9"/><rect x="378.73" y="322.32" width="8.63" height="8.64" fill="#75b2f0"/><rect x="387.06" y="322.32" width="8.63" height="8.64" fill="#e3f0fc"/><rect x="395.39" y="322.32" width="8.63" height="8.64" fill="#64a8ee"/><rect x="403.72" y="322.32" width="8.63" height="8.64" fill="#75b2f0"/><rect x="412.05" y="322.32" width="8.63" height="8.64" fill="#c7e1f9"/><rect x="420.38" y="322.32" width="8.63" height="8.64" fill="#ffffff"/><rect x="428.71" y="322.32" width="8.63" height="8.64" fill="#c7e1f9"/><rect x="437.04" y="322.32" width="8.63" height="8.64" fill="#75b2f0"/><rect x="445.37" y="322.32" width="8.63" height="8.64" fill="#ffffff"/><rect x="453.70" y="322.32" width="8.63" height="8.64" fill="#fc0000"/><rect x="462.03" y="322.32" width="8.63" height="8.64" fill="#fab5b5"/><rect x="370.40" y="330.65" width="8.63" height="8.64" fill="#75b2f0"/><rect x="378.73" y="330.65" width="8.63" height="8.64" fill="#e3f0fc"/><rect x="387.06" y="330.65" width="8.63" height="8.64" fill="#86bcf2"/><rect x="395.39" y="330.65" width="8.63" height="8.64" fill="#58a0ed"/><rect x="403.72" y="330.65" width="8.63" height="8.64" fill="#75b2f0"/><rect x="412.05" y="330.65" width="8.63" height="8.64" fill="#c7e1f9"/><rect x="420.38" y="330.65" width="8.63" height="8.64" fill="#a8d0f6"/><rect x="428.71" y="330.65" width="8.63" height="8.64" fill="#f99999"/><rect x="437.04" y="330.65" width="8.63" height="8.64" fill="#75b2f0"/><rect x="445.37" y="330.65" width="8.63" height="8.64" fill="#ffffff"/><rect x="453.70" y="330.65" width="8.63" height="8.64" fill="#fc0000"/><rect x="462.03" y="330.65" width="8.63" height="8.64" fill="#faa7a7"/><rect x="370.40" y="338.99" width="8.63" height="8.64" fill="#4d98ec"/><rect x="378.73" y="338.99" width="8.63" height="8.64" fill="#97c6f4"/><rect x="387.06" y="338.99" width="8.63" height="8.64" fill="#4190ea"/><rect x="395.39" y="338.99" width="8.63" height="8.64" fill="#97c6f4"/><rect x="403.72" y="338.99" width="8.63" height="8.64" fill="#f98b8b"/><rect x="412.05" y="338.99" width="8.63" height="8.64" fill="#a8d0f6"/><rect x="420.38" y="338.99" width="8.63" height="8.64" fill="#d5e9fb"/><rect x="428.71" y="338.99" width="8.63" height="8.64" fill="#faa7a7"/><rect x="437.04" y="338.99" width="8.63" height="8.64" fill="#97c6f4"/><rect x="445.37" y="338.99" width="8.63" height="8.64" fill="#fde7e7"/><rect x="453.70" y="338.99" width="8.63" height="8.64" fill="#fc0000"/><rect x="462.03" y="338.99" width="8.63" height="8.64" fill="#f87070"/><rect x="370.40" y="347.32" width="8.63" height="8.64" fill="#fde7e7"/><rect x="378.73" y="347.32" width="8.63" height="8.64" fill="#2475e6"/><rect x="387.06" y="347.32" width="8.63" height="8.64" fill="#86bcf2"/><rect x="395.39" y="347.32" width="8.63" height="8.64" fill="#4d98ec"/><rect x="403.72" y="347.32" width="8.63" height="8.64" fill="#97c6f4"/><rect x="412.05" y="347.32" width="8.63" height="8.64" fill="#f93030"/><rect x="420.38" y="347.32" width="8.63" height="8.64" fill="#fb0c0c"/><rect x="428.71" y="347.32" width="8.63" height="8.64" fill="#fddbdb"/><rect x="437.04" y="347.32" width="8.63" height="8.64" fill="#97c6f4"/><rect x="445.37" y="347.32" width="8.63" height="8.64" fill="#fb0c0c"/><rect x="453.70" y="347.32" width="8.63" height="8.64" fill="#75b2f0"/><rect x="462.03" y="347.32" width="8.63" height="8.64" fill="#f99999"/><rect x="370.40" y="355.66" width="8.63" height="8.64" fill="#fccfcf"/><rect x="378.73" y="355.66" width="8.63" height="8.64" fill="#1d6ae4"/><rect x="387.06" y="355.66" width="8.63" height="8.64" fill="#86bcf2"/><rect x="395.39" y="355.66" width="8.63" height="8.64" fill="#58a0ed"/><rect x="403.72" y="355.66" width="8.63" height="8.64" fill="#1d6ae4"/><rect x="412.05" y="355.66" width="8.63" height="8.64" fill="#fb0c0c"/><rect x="420.38" y="355.66" width="8.63" height="8.64" fill="#f84949"/><rect x="428.71" y="355.66" width="8.63" height="8.64" fill="#ffffff"/><rect x="437.04" y="355.66" width="8.63" height="8.64" fill="#f84949"/><rect x="445.37" y="355.66" width="8.63" height="8.64" fill="#fef3f3"/><rect x="453.70" y="355.66" width="8.63" height="8.64" fill="#f99999"/><rect x="462.03" y="355.66" width="8.63" height="8.64" fill="#f86363"/><rect x="370.40" y="363.99" width="8.63" height="8.64" fill="#fddbdb"/><rect x="378.73" y="363.99" width="8.63" height="8.64" fill="#2475e6"/><rect x="387.06" y="363.99" width="8.63" height="8.64" fill="#fddbdb"/><rect x="395.39" y="363.99" width="8.63" height="8.64" fill="#58a0ed"/><rect x="403.72" y="363.99" width="8.63" height="8.64" fill="#86bcf2"/><rect x="412.05" y="363.99" width="8.63" height="8.64" fill="#ffffff"/><rect x="420.38" y="363.99" width="8.63" height="8.64" fill="#fc0000"/><rect x="428.71" y="363.99" width="8.63" height="8.64" fill="#64a8ee"/><rect x="437.04" y="363.99" width="8.63" height="8.64" fill="#fb0c0c"/><rect x="445.37" y="363.99" width="8.63" height="8.64" fill="#fde7e7"/><rect x="453.70" y="363.99" width="8.63" height="8.64" fill="#faa7a7"/><rect x="462.03" y="363.99" width="8.63" height="8.64" fill="#f98b8b"/><rect x="370.40" y="372.33" width="8.63" height="8.64" fill="#f87070"/><rect x="378.73" y="372.33" width="8.63" height="8.64" fill="#3688e9"/><rect x="387.06" y="372.33" width="8.63" height="8.64" fill="#97c6f4"/><rect x="395.39" y="372.33" width="8.63" height="8.64" fill="#f98b8b"/><rect x="403.72" y="372.33" width="8.63" height="8.64" fill="#1d6ae4"/><rect x="412.05" y="372.33" width="8.63" height="8.64" fill="#97c6f4"/><rect x="420.38" y="372.33" width="8.63" height="8.64" fill="#fc0000"/><rect x="428.71" y="372.33" width="8.63" height="8.64" fill="#64a8ee"/><rect x="437.04" y="372.33" width="8.63" height="8.64" fill="#f87070"/><rect x="445.37" y="372.33" width="8.63" height="8.64" fill="#fc0000"/><rect x="453.70" y="372.33" width="8.63" height="8.64" fill="#75b2f0"/><rect x="462.03" y="372.33" width="8.63" height="8.64" fill="#fef3f3"/><rect x="370.40" y="380.66" width="8.63" height="8.64" fill="#f98b8b"/><rect x="378.73" y="380.66" width="8.63" height="8.64" fill="#75b2f0"/><rect x="387.06" y="380.66" width="8.63" height="8.64" fill="#86bcf2"/><rect x="395.39" y="380.66" width="8.63" height="8.64" fill="#fde7e7"/><rect x="403.72" y="380.66" width="8.63" height="8.64" fill="#2475e6"/><rect x="412.05" y="380.66" width="8.63" height="8.64" fill="#86bcf2"/><rect x="420.38" y="380.66" width="8.63" height="8.64" fill="#f83c3c"/><rect x="428.71" y="380.66" width="8.63" height="8.64" fill="#75b2f0"/><rect x="437.04" y="380.66" width="8.63" height="8.64" fill="#86bcf2"/><rect x="445.37" y="380.66" width="8.63" height="8.64" fill="#fc0000"/><rect x="453.70" y="380.66" width="8.63" height="8.64" fill="#fde7e7"/><rect x="462.03" y="380.66" width="8.63" height="8.64" fill="#f86363"/><rect x="370.40" y="389.00" width="8.63" height="8.64" fill="#ffffff"/><rect x="378.73" y="389.00" width="8.63" height="8.64" fill="#175ee2"/><rect x="387.06" y="389.00" width="8.63" height="8.64" fill="#ffffff"/><rect x="395.39" y="389.00" width="8.63" height="8.64" fill="#faa7a7"/><rect x="403.72" y="389.00" width="8.63" height="8.64" fill="#2a80e8"/><rect x="412.05" y="389.00" width="8.63" height="8.64" fill="#ffffff"/><rect x="420.38" y="389.00" width="8.63" height="8.64" fill="#fc0000"/><rect x="428.71" y="389.00" width="8.63" height="8.64" fill="#fef3f3"/><rect x="437.04" y="389.00" width="8.63" height="8.64" fill="#58a0ed"/><rect x="445.37" y="389.00" width="8.63" height="8.64" fill="#fc0000"/><rect x="453.70" y="389.00" width="8.63" height="8.64" fill="#fab5b5"/><rect x="462.03" y="389.00" width="8.63" height="8.64" fill="#ffffff"/><rect x="370.40" y="397.33" width="8.63" height="8.64" fill="#faa7a7"/><rect x="378.73" y="397.33" width="8.63" height="8.64" fill="#175ee2"/><rect x="387.06" y="397.33" width="8.63" height="8.64" fill="#ffffff"/><rect x="395.39" y="397.33" width="8.63" height="8.64" fill="#75b2f0"/><rect x="403.72" y="397.33" width="8.63" height="8.64" fill="#58a0ed"/><rect x="412.05" y="397.33" width="8.63" height="8.64" fill="#86bcf2"/><rect x="420.38" y="397.33" width="8.63" height="8.64" fill="#fc0000"/><rect x="428.71" y="397.33" width="8.63" height="8.64" fill="#fde7e7"/><rect x="437.04" y="397.33" width="8.63" height="8.64" fill="#58a0ed"/><rect x="445.37" y="397.33" width="8.63" height="8.64" fill="#fc0000"/><rect x="453.70" y="397.33" width="8.63" height="8.64" fill="#f84949"/><rect x="462.03" y="397.33" width="8.63" height="8.64" fill="#ffffff"/><rect x="370.40" y="405.67" width="8.63" height="8.64" fill="#faa7a7"/><rect x="378.73" y="405.67" width="8.63" height="8.64" fill="#175ee2"/><rect x="387.06" y="405.67" width="8.63" height="8.64" fill="#1d6ae4"/><rect x="395.39" y="405.67" width="8.63" height="8.64" fill="#f87070"/><rect x="403.72" y="405.67" width="8.63" height="8.64" fill="#fa2424"/><rect x="412.05" y="405.67" width="8.63" height="8.64" fill="#fde7e7"/><rect x="420.38" y="405.67" width="8.63" height="8.64" fill="#fb0c0c"/><rect x="428.71" y="405.67" width="8.63" height="8.64" fill="#4190ea"/><rect x="437.04" y="405.67" width="8.63" height="8.64" fill="#97c6f4"/><rect x="445.37" y="405.67" width="8.63" height="8.64" fill="#f98b8b"/><rect x="453.70" y="405.67" width="8.63" height="8.64" fill="#fde7e7"/><rect x="462.03" y="405.67" width="8.63" height="8.64" fill="#fde7e7"/><rect x="370.40" y="414.00" width="8.63" height="8.64" fill="#fccfcf"/><rect x="378.73" y="414.00" width="8.63" height="8.64" fill="#75b2f0"/><rect x="387.06" y="414.00" width="8.63" height="8.64" fill="#4d98ec"/><rect x="395.39" y="414.00" width="8.63" height="8.64" fill="#fc0000"/><rect x="403.72" y="414.00" width="8.63" height="8.64" fill="#fccfcf"/><rect x="412.05" y="414.00" width="8.63" height="8.64" fill="#4d98ec"/><rect x="420.38" y="414.00" width="8.63" height="8.64" fill="#fab5b5"/><rect x="428.71" y="414.00" width="8.63" height="8.64" fill="#3688e9"/><rect x="437.04" y="414.00" width="8.63" height="8.64" fill="#58a0ed"/><rect x="445.37" y="414.00" width="8.63" height="8.64" fill="#fef3f3"/><rect x="453.70" y="414.00" width="8.63" height="8.64" fill="#fb0c0c"/><rect x="462.03" y="414.00" width="8.63" height="8.64" fill="#faa7a7"/><rect x="370.40" y="422.34" width="8.63" height="8.64" fill="#4d98ec"/><rect x="378.73" y="422.34" width="8.63" height="8.64" fill="#faa7a7"/><rect x="387.06" y="422.34" width="8.63" height="8.64" fill="#1d6ae4"/><rect x="395.39" y="422.34" width="8.63" height="8.64" fill="#faa7a7"/><rect x="403.72" y="422.34" width="8.63" height="8.64" fill="#ffffff"/><rect x="412.05" y="422.34" width="8.63" height="8.64" fill="#fde7e7"/><rect x="420.38" y="422.34" width="8.63" height="8.64" fill="#175ee2"/><rect x="428.71" y="422.34" width="8.63" height="8.64" fill="#fc0000"/><rect x="437.04" y="422.34" width="8.63" height="8.64" fill="#fccfcf"/><rect x="445.37" y="422.34" width="8.63" height="8.64" fill="#fab5b5"/><rect x="453.70" y="422.34" width="8.63" height="8.64" fill="#f84949"/><rect x="462.03" y="422.34" width="8.63" height="8.64" fill="#f99999"/><rect x="370.40" y="430.67" width="8.63" height="8.64" fill="#64a8ee"/><rect x="378.73" y="430.67" width="8.63" height="8.64" fill="#fef3f3"/><rect x="387.06" y="430.67" width="8.63" height="8.64" fill="#a8d0f6"/><rect x="395.39" y="430.67" width="8.63" height="8.64" fill="#4d98ec"/><rect x="403.72" y="430.67" width="8.63" height="8.64" fill="#fa1818"/><rect x="412.05" y="430.67" width="8.63" height="8.64" fill="#a8d0f6"/><rect x="420.38" y="430.67" width="8.63" height="8.64" fill="#1d6ae4"/><rect x="428.71" y="430.67" width="8.63" height="8.64" fill="#fc0000"/><rect x="437.04" y="430.67" width="8.63" height="8.64" fill="#d5e9fb"/><rect x="445.37" y="430.67" width="8.63" height="8.64" fill="#ffffff"/><rect x="453.70" y="430.67" width="8.63" height="8.64" fill="#fc0000"/><rect x="462.03" y="430.67" width="8.63" height="8.64" fill="#f99999"/><rect x="370.40" y="439.00" width="8.63" height="8.64" fill="#4190ea"/><rect x="378.73" y="439.00" width="8.63" height="8.64" fill="#d5e9fb"/><rect x="387.06" y="439.00" width="8.63" height="8.64" fill="#97c6f4"/><rect x="395.39" y="439.00" width="8.63" height="8.64" fill="#97c6f4"/><rect x="403.72" y="439.00" width="8.63" height="8.64" fill="#a8d0f6"/><rect x="412.05" y="439.00" width="8.63" height="8.64" fill="#a8d0f6"/><rect x="420.38" y="439.00" width="8.63" height="8.64" fill="#4190ea"/><rect x="428.71" y="439.00" width="8.63" height="8.64" fill="#fc0000"/><rect x="437.04" y="439.00" width="8.63" height="8.64" fill="#d5e9fb"/><rect x="445.37" y="439.00" width="8.63" height="8.64" fill="#ffffff"/><rect x="453.70" y="439.00" width="8.63" height="8.64" fill="#fc0000"/><rect x="462.03" y="439.00" width="8.63" height="8.64" fill="#faa7a7"/><rect x="370.40" y="447.34" width="8.63" height="8.64" fill="#c7e1f9"/><rect x="378.73" y="447.34" width="8.63" height="8.64" fill="#4d98ec"/><rect x="387.06" y="447.34" width="8.63" height="8.64" fill="#fddbdb"/><rect x="395.39" y="447.34" width="8.63" height="8.64" fill="#fde7e7"/><rect x="403.72" y="447.34" width="8.63" height="8.64" fill="#f87070"/><rect x="412.05" y="447.34" width="8.63" height="8.64" fill="#ffffff"/><rect x="420.38" y="447.34" width="8.63" height="8.64" fill="#0a48de"/><rect x="428.71" y="447.34" width="8.63" height="8.64" fill="#f85656"/><rect x="437.04" y="447.34" width="8.63" height="8.64" fill="#fccfcf"/><rect x="445.37" y="447.34" width="8.63" height="8.64" fill="#75b2f0"/><rect x="453.70" y="447.34" width="8.63" height="8.64" fill="#fc0000"/><rect x="462.03" y="447.34" width="8.63" height="8.64" fill="#fb0c0c"/><rect x="370.40" y="455.68" width="8.63" height="8.64" fill="#97c6f4"/><rect x="378.73" y="455.68" width="8.63" height="8.64" fill="#4d98ec"/><rect x="387.06" y="455.68" width="8.63" height="8.64" fill="#2a80e8"/><rect x="395.39" y="455.68" width="8.63" height="8.64" fill="#ffffff"/><rect x="403.72" y="455.68" width="8.63" height="8.64" fill="#1d6ae4"/><rect x="412.05" y="455.68" width="8.63" height="8.64" fill="#f87070"/><rect x="420.38" y="455.68" width="8.63" height="8.64" fill="#fbc3c3"/><rect x="428.71" y="455.68" width="8.63" height="8.64" fill="#4d98ec"/><rect x="437.04" y="455.68" width="8.63" height="8.64" fill="#fc0000"/><rect x="445.37" y="455.68" width="8.63" height="8.64" fill="#fc0000"/><rect x="453.70" y="455.68" width="8.63" height="8.64" fill="#faa7a7"/><rect x="462.03" y="455.68" width="8.63" height="8.64" fill="#f86363"/><rect x="370.40" y="464.01" width="8.63" height="8.64" fill="#1d6ae4"/><rect x="378.73" y="464.01" width="8.63" height="8.64" fill="#86bcf2"/><rect x="387.06" y="464.01" width="8.63" height="8.64" fill="#2a80e8"/><rect x="395.39" y="464.01" width="8.63" height="8.64" fill="#58a0ed"/><rect x="403.72" y="464.01" width="8.63" height="8.64" fill="#d5e9fb"/><rect x="412.05" y="464.01" width="8.63" height="8.64" fill="#b9daf8"/><rect x="420.38" y="464.01" width="8.63" height="8.64" fill="#fbc3c3"/><rect x="428.71" y="464.01" width="8.63" height="8.64" fill="#f87d7d"/><rect x="437.04" y="464.01" width="8.63" height="8.64" fill="#fc0000"/><rect x="445.37" y="464.01" width="8.63" height="8.64" fill="#faa7a7"/><rect x="453.70" y="464.01" width="8.63" height="8.64" fill="#fb0c0c"/><rect x="462.03" y="464.01" width="8.63" height="8.64" fill="#f93030"/><rect x="370.40" y="472.35" width="8.63" height="8.64" fill="#175ee2"/><rect x="378.73" y="472.35" width="8.63" height="8.64" fill="#d5e9fb"/><rect x="387.06" y="472.35" width="8.63" height="8.64" fill="#4d98ec"/><rect x="395.39" y="472.35" width="8.63" height="8.64" fill="#75b2f0"/><rect x="403.72" y="472.35" width="8.63" height="8.64" fill="#75b2f0"/><rect x="412.05" y="472.35" width="8.63" height="8.64" fill="#4d98ec"/><rect x="420.38" y="472.35" width="8.63" height="8.64" fill="#fa2424"/><rect x="428.71" y="472.35" width="8.63" height="8.64" fill="#f99999"/><rect x="437.04" y="472.35" width="8.63" height="8.64" fill="#fc0000"/><rect x="445.37" y="472.35" width="8.63" height="8.64" fill="#fc0000"/><rect x="453.70" y="472.35" width="8.63" height="8.64" fill="#ffffff"/><rect x="462.03" y="472.35" width="8.63" height="8.64" fill="#f93030"/><rect x="370.40" y="480.68" width="8.63" height="8.64" fill="#1053e0"/><rect x="378.73" y="480.68" width="8.63" height="8.64" fill="#97c6f4"/><rect x="387.06" y="480.68" width="8.63" height="8.64" fill="#97c6f4"/><rect x="395.39" y="480.68" width="8.63" height="8.64" fill="#c7e1f9"/><rect x="403.72" y="480.68" width="8.63" height="8.64" fill="#64a8ee"/><rect x="412.05" y="480.68" width="8.63" height="8.64" fill="#ffffff"/><rect x="420.38" y="480.68" width="8.63" height="8.64" fill="#fbc3c3"/><rect x="428.71" y="480.68" width="8.63" height="8.64" fill="#f83c3c"/><rect x="437.04" y="480.68" width="8.63" height="8.64" fill="#fc0000"/><rect x="445.37" y="480.68" width="8.63" height="8.64" fill="#58a0ed"/><rect x="453.70" y="480.68" width="8.63" height="8.64" fill="#fc0000"/><rect x="462.03" y="480.68" width="8.63" height="8.64" fill="#f87070"/><rect x="370.40" y="489.02" width="8.63" height="8.64" fill="#175ee2"/><rect x="378.73" y="489.02" width="8.63" height="8.64" fill="#fbc3c3"/><rect x="387.06" y="489.02" width="8.63" height="8.64" fill="#58a0ed"/><rect x="395.39" y="489.02" width="8.63" height="8.64" fill="#97c6f4"/><rect x="403.72" y="489.02" width="8.63" height="8.64" fill="#64a8ee"/><rect x="412.05" y="489.02" width="8.63" height="8.64" fill="#58a0ed"/><rect x="420.38" y="489.02" width="8.63" height="8.64" fill="#fde7e7"/><rect x="428.71" y="489.02" width="8.63" height="8.64" fill="#fc0000"/><rect x="437.04" y="489.02" width="8.63" height="8.64" fill="#fc0000"/><rect x="445.37" y="489.02" width="8.63" height="8.64" fill="#c7e1f9"/><rect x="453.70" y="489.02" width="8.63" height="8.64" fill="#fc0000"/><rect x="462.03" y="489.02" width="8.63" height="8.64" fill="#f99999"/><rect x="370.40" y="497.35" width="8.63" height="8.64" fill="#1d6ae4"/><rect x="378.73" y="497.35" width="8.63" height="8.64" fill="#fde7e7"/><rect x="387.06" y="497.35" width="8.63" height="8.64" fill="#fc0000"/><rect x="395.39" y="497.35" width="8.63" height="8.64" fill="#175ee2"/><rect x="403.72" y="497.35" width="8.63" height="8.64" fill="#ffffff"/><rect x="412.05" y="497.35" width="8.63" height="8.64" fill="#f87070"/><rect x="420.38" y="497.35" width="8.63" height="8.64" fill="#4d98ec"/><rect x="428.71" y="497.35" width="8.63" height="8.64" fill="#fccfcf"/><rect x="437.04" y="497.35" width="8.63" height="8.64" fill="#fc0000"/><rect x="445.37" y="497.35" width="8.63" height="8.64" fill="#86bcf2"/><rect x="453.70" y="497.35" width="8.63" height="8.64" fill="#f98b8b"/><rect x="462.03" y="497.35" width="8.63" height="8.64" fill="#fa2424"/><rect x="370.40" y="505.69" width="8.63" height="8.64" fill="#4190ea"/><rect x="378.73" y="505.69" width="8.63" height="8.64" fill="#f87d7d"/><rect x="387.06" y="505.69" width="8.63" height="8.64" fill="#75b2f0"/><rect x="395.39" y="505.69" width="8.63" height="8.64" fill="#3688e9"/><rect x="403.72" y="505.69" width="8.63" height="8.64" fill="#1053e0"/><rect x="412.05" y="505.69" width="8.63" height="8.64" fill="#fccfcf"/><rect x="420.38" y="505.69" width="8.63" height="8.64" fill="#a8d0f6"/><rect x="428.71" y="505.69" width="8.63" height="8.64" fill="#fccfcf"/><rect x="437.04" y="505.69" width="8.63" height="8.64" fill="#f87070"/><rect x="445.37" y="505.69" width="8.63" height="8.64" fill="#f98b8b"/><rect x="453.70" y="505.69" width="8.63" height="8.64" fill="#f87d7d"/><rect x="462.03" y="505.69" width="8.63" height="8.64" fill="#fc0000"/><rect x="370.40" y="514.02" width="8.63" height="8.64" fill="#fde7e7"/><rect x="378.73" y="514.02" width="8.63" height="8.64" fill="#4d98ec"/><rect x="387.06" y="514.02" width="8.63" height="8.64" fill="#fef3f3"/><rect x="395.39" y="514.02" width="8.63" height="8.64" fill="#1053e0"/><rect x="403.72" y="514.02" width="8.63" height="8.64" fill="#4190ea"/><rect x="412.05" y="514.02" width="8.63" height="8.64" fill="#a8d0f6"/><rect x="420.38" y="514.02" width="8.63" height="8.64" fill="#a8d0f6"/><rect x="428.71" y="514.02" width="8.63" height="8.64" fill="#fc0000"/><rect x="437.04" y="514.02" width="8.63" height="8.64" fill="#fde7e7"/><rect x="445.37" y="514.02" width="8.63" height="8.64" fill="#faa7a7"/><rect x="453.70" y="514.02" width="8.63" height="8.64" fill="#f86363"/><rect x="462.03" y="514.02" width="8.63" height="8.64" fill="#fc0000"/><rect x="370.40" y="522.36" width="8.63" height="8.64" fill="#fde7e7"/><rect x="378.73" y="522.36" width="8.63" height="8.64" fill="#4d98ec"/><rect x="387.06" y="522.36" width="8.63" height="8.64" fill="#fef3f3"/><rect x="395.39" y="522.36" width="8.63" height="8.64" fill="#fde7e7"/><rect x="403.72" y="522.36" width="8.63" height="8.64" fill="#2475e6"/><rect x="412.05" y="522.36" width="8.63" height="8.64" fill="#97c6f4"/><rect x="420.38" y="522.36" width="8.63" height="8.64" fill="#a8d0f6"/><rect x="428.71" y="522.36" width="8.63" height="8.64" fill="#64a8ee"/><rect x="437.04" y="522.36" width="8.63" height="8.64" fill="#f86363"/><rect x="445.37" y="522.36" width="8.63" height="8.64" fill="#a8d0f6"/><rect x="453.70" y="522.36" width="8.63" height="8.64" fill="#fa1818"/><rect x="462.03" y="522.36" width="8.63" height="8.64" fill="#fc0000"/></g>
<text x="481.4" y="256.34" class="m" font-size="8.5" fill="#444" textLength="34.65" lengthAdjust="spacingAndGlyphs">BHLHE41</text><text x="481.4" y="264.67" class="m" font-size="8.5" fill="#444" textLength="34.65" lengthAdjust="spacingAndGlyphs">CREB3L1</text><text x="481.4" y="273.00" class="m" font-size="8.5" fill="#444" textLength="29.70" lengthAdjust="spacingAndGlyphs">MICAL2</text><text x="481.4" y="281.34" class="m" font-size="8.5" fill="#444" textLength="29.70" lengthAdjust="spacingAndGlyphs">AKR1C1</text><text x="481.4" y="289.68" class="m" font-size="8.5" fill="#444" textLength="9.90" lengthAdjust="spacingAndGlyphs">C3</text><text x="481.4" y="298.01" class="m" font-size="8.5" fill="#444" textLength="24.75" lengthAdjust="spacingAndGlyphs">CXCL1</text><text x="481.4" y="306.35" class="m" font-size="8.5" fill="#444" textLength="24.75" lengthAdjust="spacingAndGlyphs">IFIH1</text><text x="481.4" y="314.68" class="m" font-size="8.5" fill="#444" textLength="39.60" lengthAdjust="spacingAndGlyphs">SERPINE1</text><text x="481.4" y="323.02" class="m" font-size="8.5" fill="#444" textLength="29.70" lengthAdjust="spacingAndGlyphs">COL6A3</text><text x="481.4" y="331.35" class="m" font-size="8.5" fill="#444" textLength="29.70" lengthAdjust="spacingAndGlyphs">COL1A2</text><text x="481.4" y="339.69" class="m" font-size="8.5" fill="#444" textLength="24.75" lengthAdjust="spacingAndGlyphs">GREM1</text><text x="481.4" y="348.02" class="m" font-size="8.5" fill="#444" textLength="24.75" lengthAdjust="spacingAndGlyphs">MAP1B</text><text x="481.4" y="356.36" class="m" font-size="8.5" fill="#444" textLength="24.75" lengthAdjust="spacingAndGlyphs">EPHB2</text><text x="481.4" y="364.69" class="m" font-size="8.5" fill="#444" textLength="29.70" lengthAdjust="spacingAndGlyphs">GOLSYN</text><text x="481.4" y="373.03" class="m" font-size="8.5" fill="#444" textLength="34.65" lengthAdjust="spacingAndGlyphs">TSPAN13</text><text x="481.4" y="381.36" class="m" font-size="8.5" fill="#444" textLength="19.80" lengthAdjust="spacingAndGlyphs">VCAN</text><text x="481.4" y="389.69" class="m" font-size="8.5" fill="#444" textLength="24.75" lengthAdjust="spacingAndGlyphs">ACTA2</text><text x="481.4" y="398.03" class="m" font-size="8.5" fill="#444" textLength="29.70" lengthAdjust="spacingAndGlyphs">IL17RC</text><text x="481.4" y="406.37" class="m" font-size="8.5" fill="#444" textLength="39.60" lengthAdjust="spacingAndGlyphs">ARHGAP22</text><text x="481.4" y="414.70" class="m" font-size="8.5" fill="#444" textLength="19.80" lengthAdjust="spacingAndGlyphs">GCLC</text><text x="481.4" y="423.04" class="m" font-size="8.5" fill="#444" textLength="19.80" lengthAdjust="spacingAndGlyphs">SCG5</text><text x="481.4" y="431.37" class="m" font-size="8.5" fill="#444" textLength="19.80" lengthAdjust="spacingAndGlyphs">CD55</text><text x="481.4" y="439.70" class="m" font-size="8.5" fill="#444" textLength="24.75" lengthAdjust="spacingAndGlyphs">EFNA1</text><text x="481.4" y="448.04" class="m" font-size="8.5" fill="#444" textLength="24.75" lengthAdjust="spacingAndGlyphs">TCEA2</text><text x="481.4" y="456.38" class="m" font-size="8.5" fill="#444" textLength="24.75" lengthAdjust="spacingAndGlyphs">EPAS1</text><text x="481.4" y="464.71" class="m" font-size="8.5" fill="#444" textLength="19.80" lengthAdjust="spacingAndGlyphs">KLF9</text><text x="481.4" y="473.05" class="m" font-size="8.5" fill="#444" textLength="19.80" lengthAdjust="spacingAndGlyphs">LEPR</text><text x="481.4" y="481.38" class="m" font-size="8.5" fill="#444" textLength="34.65" lengthAdjust="spacingAndGlyphs">TSC22D3</text><text x="481.4" y="489.72" class="m" font-size="8.5" fill="#444" textLength="19.80" lengthAdjust="spacingAndGlyphs">STC2</text><text x="481.4" y="498.05" class="m" font-size="8.5" fill="#444" textLength="24.75" lengthAdjust="spacingAndGlyphs">WIPI1</text><text x="481.4" y="506.39" class="m" font-size="8.5" fill="#444" textLength="19.80" lengthAdjust="spacingAndGlyphs">FZD3</text><text x="481.4" y="514.72" class="m" font-size="8.5" fill="#444" textLength="24.75" lengthAdjust="spacingAndGlyphs">BIRC3</text><text x="481.4" y="523.06" class="m" font-size="8.5" fill="#444" textLength="29.70" lengthAdjust="spacingAndGlyphs">IGFBP3</text><text x="481.4" y="531.39" class="m" font-size="8.5" fill="#444" textLength="29.70" lengthAdjust="spacingAndGlyphs">SPOCK1</text>
<text x="0" y="0" class="s" font-size="8.0" font-weight="bold" text-anchor="start" fill="#000" textLength="17.2" lengthAdjust="spacingAndGlyphs" transform="translate(379.30,240.6) rotate(-90)">Ctrl1</text>
<text x="0" y="0" class="s" font-size="8.0" font-weight="bold" text-anchor="start" fill="#000" textLength="17.2" lengthAdjust="spacingAndGlyphs" transform="translate(387.63,240.6) rotate(-90)">Ctrl2</text>
<text x="0" y="0" class="s" font-size="8.0" font-weight="bold" text-anchor="start" fill="#000" textLength="17.2" lengthAdjust="spacingAndGlyphs" transform="translate(395.96,240.6) rotate(-90)">Ctrl3</text>
<text x="0" y="0" class="s" font-size="8.0" font-weight="bold" text-anchor="start" fill="#000" textLength="13.6" lengthAdjust="spacingAndGlyphs" transform="translate(404.29,240.6) rotate(-90)">IM1</text>
<text x="0" y="0" class="s" font-size="8.0" font-weight="bold" text-anchor="start" fill="#000" textLength="13.6" lengthAdjust="spacingAndGlyphs" transform="translate(412.62,240.6) rotate(-90)">IM2</text>
<text x="0" y="0" class="s" font-size="8.0" font-weight="bold" text-anchor="start" fill="#000" textLength="13.6" lengthAdjust="spacingAndGlyphs" transform="translate(420.95,240.6) rotate(-90)">IM3</text>
<text x="0" y="0" class="s" font-size="8.0" font-weight="bold" text-anchor="start" fill="#000" textLength="23.0" lengthAdjust="spacingAndGlyphs" transform="translate(429.28,240.6) rotate(-90)">MSC1</text>
<text x="0" y="0" class="s" font-size="8.0" font-weight="bold" text-anchor="start" fill="#000" textLength="23.0" lengthAdjust="spacingAndGlyphs" transform="translate(437.61,240.6) rotate(-90)">MSC2</text>
<text x="0" y="0" class="s" font-size="8.0" font-weight="bold" text-anchor="start" fill="#000" textLength="23.0" lengthAdjust="spacingAndGlyphs" transform="translate(445.94,240.6) rotate(-90)">MSC3</text>
<text x="0" y="0" class="s" font-size="8.0" font-weight="bold" text-anchor="start" fill="#000" textLength="37.9" lengthAdjust="spacingAndGlyphs" transform="translate(454.27,240.6) rotate(-90)">MSC+IM1</text>
<text x="0" y="0" class="s" font-size="8.0" font-weight="bold" text-anchor="start" fill="#000" textLength="37.9" lengthAdjust="spacingAndGlyphs" transform="translate(462.60,240.6) rotate(-90)">MSC+IM2</text>
<text x="0" y="0" class="s" font-size="8.0" font-weight="bold" text-anchor="start" fill="#000" textLength="37.9" lengthAdjust="spacingAndGlyphs" transform="translate(470.93,240.6) rotate(-90)">MSC+IM3</text>
<g shape-rendering="crispEdges"><rect x="367.80" y="634.20" width="9.20" height="9.71" fill="#1d6ae4"/><rect x="376.70" y="634.20" width="9.20" height="9.71" fill="#86bcf2"/><rect x="385.60" y="634.20" width="9.20" height="9.71" fill="#fddbdb"/><rect x="394.50" y="634.20" width="9.20" height="9.71" fill="#4d98ec"/><rect x="403.40" y="634.20" width="9.20" height="9.71" fill="#4d98ec"/><rect x="412.30" y="634.20" width="9.20" height="9.71" fill="#c7e1f9"/><rect x="421.20" y="634.20" width="9.20" height="9.71" fill="#97c6f4"/><rect x="430.10" y="634.20" width="9.20" height="9.71" fill="#f99999"/><rect x="439.00" y="634.20" width="9.20" height="9.71" fill="#fc0000"/><rect x="447.90" y="634.20" width="9.20" height="9.71" fill="#86bcf2"/><rect x="456.80" y="634.20" width="9.20" height="9.71" fill="#fc0000"/><rect x="465.70" y="634.20" width="9.20" height="9.71" fill="#fb0c0c"/><rect x="367.80" y="643.61" width="9.20" height="9.71" fill="#1d6ae4"/><rect x="376.70" y="643.61" width="9.20" height="9.71" fill="#e3f0fc"/><rect x="385.60" y="643.61" width="9.20" height="9.71" fill="#fb0c0c"/><rect x="394.50" y="643.61" width="9.20" height="9.71" fill="#145ae1"/><rect x="403.40" y="643.61" width="9.20" height="9.71" fill="#ffffff"/><rect x="412.30" y="643.61" width="9.20" height="9.71" fill="#f86363"/><rect x="421.20" y="643.61" width="9.20" height="9.71" fill="#4190ea"/><rect x="430.10" y="643.61" width="9.20" height="9.71" fill="#fddbdb"/><rect x="439.00" y="643.61" width="9.20" height="9.71" fill="#fc0000"/><rect x="447.90" y="643.61" width="9.20" height="9.71" fill="#64a8ee"/><rect x="456.80" y="643.61" width="9.20" height="9.71" fill="#f99999"/><rect x="465.70" y="643.61" width="9.20" height="9.71" fill="#fa2424"/><rect x="367.80" y="653.02" width="9.20" height="9.71" fill="#1d6ae4"/><rect x="376.70" y="653.02" width="9.20" height="9.71" fill="#f99999"/><rect x="385.60" y="653.02" width="9.20" height="9.71" fill="#64a8ee"/><rect x="394.50" y="653.02" width="9.20" height="9.71" fill="#75b2f0"/><rect x="403.40" y="653.02" width="9.20" height="9.71" fill="#f99999"/><rect x="412.30" y="653.02" width="9.20" height="9.71" fill="#f98b8b"/><rect x="421.20" y="653.02" width="9.20" height="9.71" fill="#3688e9"/><rect x="430.10" y="653.02" width="9.20" height="9.71" fill="#f84949"/><rect x="439.00" y="653.02" width="9.20" height="9.71" fill="#fbc3c3"/><rect x="447.90" y="653.02" width="9.20" height="9.71" fill="#58a0ed"/><rect x="456.80" y="653.02" width="9.20" height="9.71" fill="#fc0000"/><rect x="465.70" y="653.02" width="9.20" height="9.71" fill="#fa2424"/><rect x="367.80" y="662.43" width="9.20" height="9.71" fill="#1d6ae4"/><rect x="376.70" y="662.43" width="9.20" height="9.71" fill="#fab5b5"/><rect x="385.60" y="662.43" width="9.20" height="9.71" fill="#c7e1f9"/><rect x="394.50" y="662.43" width="9.20" height="9.71" fill="#58a0ed"/><rect x="403.40" y="662.43" width="9.20" height="9.71" fill="#f87070"/><rect x="412.30" y="662.43" width="9.20" height="9.71" fill="#f87d7d"/><rect x="421.20" y="662.43" width="9.20" height="9.71" fill="#2475e6"/><rect x="430.10" y="662.43" width="9.20" height="9.71" fill="#f84949"/><rect x="439.00" y="662.43" width="9.20" height="9.71" fill="#fde7e7"/><rect x="447.90" y="662.43" width="9.20" height="9.71" fill="#c7e1f9"/><rect x="456.80" y="662.43" width="9.20" height="9.71" fill="#fc0000"/><rect x="465.70" y="662.43" width="9.20" height="9.71" fill="#fa2424"/><rect x="367.80" y="671.84" width="9.20" height="9.71" fill="#1d6ae4"/><rect x="376.70" y="671.84" width="9.20" height="9.71" fill="#1d6ae4"/><rect x="385.60" y="671.84" width="9.20" height="9.71" fill="#3185e9"/><rect x="394.50" y="671.84" width="9.20" height="9.71" fill="#fc0000"/><rect x="403.40" y="671.84" width="9.20" height="9.71" fill="#ffffff"/><rect x="412.30" y="671.84" width="9.20" height="9.71" fill="#f99999"/><rect x="421.20" y="671.84" width="9.20" height="9.71" fill="#fbc3c3"/><rect x="430.10" y="671.84" width="9.20" height="9.71" fill="#fef3f3"/><rect x="439.00" y="671.84" width="9.20" height="9.71" fill="#fab5b5"/><rect x="447.90" y="671.84" width="9.20" height="9.71" fill="#fc0000"/><rect x="456.80" y="671.84" width="9.20" height="9.71" fill="#fccfcf"/><rect x="465.70" y="671.84" width="9.20" height="9.71" fill="#f87d7d"/><rect x="367.80" y="681.25" width="9.20" height="9.71" fill="#4895eb"/><rect x="376.70" y="681.25" width="9.20" height="9.71" fill="#145ae1"/><rect x="385.60" y="681.25" width="9.20" height="9.71" fill="#75b2f0"/><rect x="394.50" y="681.25" width="9.20" height="9.71" fill="#4d98ec"/><rect x="403.40" y="681.25" width="9.20" height="9.71" fill="#fab5b5"/><rect x="412.30" y="681.25" width="9.20" height="9.71" fill="#f87d7d"/><rect x="421.20" y="681.25" width="9.20" height="9.71" fill="#fccfcf"/><rect x="430.10" y="681.25" width="9.20" height="9.71" fill="#f98b8b"/><rect x="439.00" y="681.25" width="9.20" height="9.71" fill="#ffffff"/><rect x="447.90" y="681.25" width="9.20" height="9.71" fill="#fc0000"/><rect x="456.80" y="681.25" width="9.20" height="9.71" fill="#fc0000"/><rect x="465.70" y="681.25" width="9.20" height="9.71" fill="#faa7a7"/><rect x="367.80" y="690.66" width="9.20" height="9.71" fill="#d5e9fb"/><rect x="376.70" y="690.66" width="9.20" height="9.71" fill="#175ee2"/><rect x="385.60" y="690.66" width="9.20" height="9.71" fill="#4190ea"/><rect x="394.50" y="690.66" width="9.20" height="9.71" fill="#d5e9fb"/><rect x="403.40" y="690.66" width="9.20" height="9.71" fill="#fbc3c3"/><rect x="412.30" y="690.66" width="9.20" height="9.71" fill="#f86363"/><rect x="421.20" y="690.66" width="9.20" height="9.71" fill="#fc0000"/><rect x="430.10" y="690.66" width="9.20" height="9.71" fill="#fbc3c3"/><rect x="439.00" y="690.66" width="9.20" height="9.71" fill="#d5e9fb"/><rect x="447.90" y="690.66" width="9.20" height="9.71" fill="#d5e9fb"/><rect x="456.80" y="690.66" width="9.20" height="9.71" fill="#f86363"/><rect x="465.70" y="690.66" width="9.20" height="9.71" fill="#fef3f3"/><rect x="367.80" y="700.07" width="9.20" height="9.71" fill="#97c6f4"/><rect x="376.70" y="700.07" width="9.20" height="9.71" fill="#175ee2"/><rect x="385.60" y="700.07" width="9.20" height="9.71" fill="#75b2f0"/><rect x="394.50" y="700.07" width="9.20" height="9.71" fill="#f87070"/><rect x="403.40" y="700.07" width="9.20" height="9.71" fill="#4d98ec"/><rect x="412.30" y="700.07" width="9.20" height="9.71" fill="#c7e1f9"/><rect x="421.20" y="700.07" width="9.20" height="9.71" fill="#f85656"/><rect x="430.10" y="700.07" width="9.20" height="9.71" fill="#4d98ec"/><rect x="439.00" y="700.07" width="9.20" height="9.71" fill="#fc0000"/><rect x="447.90" y="700.07" width="9.20" height="9.71" fill="#fb0c0c"/><rect x="456.80" y="700.07" width="9.20" height="9.71" fill="#fde7e7"/><rect x="465.70" y="700.07" width="9.20" height="9.71" fill="#fc0000"/><rect x="367.80" y="709.48" width="9.20" height="9.71" fill="#f98b8b"/><rect x="376.70" y="709.48" width="9.20" height="9.71" fill="#2170e5"/><rect x="385.60" y="709.48" width="9.20" height="9.71" fill="#1d6ae4"/><rect x="394.50" y="709.48" width="9.20" height="9.71" fill="#faa7a7"/><rect x="403.40" y="709.48" width="9.20" height="9.71" fill="#97c6f4"/><rect x="412.30" y="709.48" width="9.20" height="9.71" fill="#b9daf8"/><rect x="421.20" y="709.48" width="9.20" height="9.71" fill="#fc0000"/><rect x="430.10" y="709.48" width="9.20" height="9.71" fill="#4d98ec"/><rect x="439.00" y="709.48" width="9.20" height="9.71" fill="#faa7a7"/><rect x="447.90" y="709.48" width="9.20" height="9.71" fill="#fc0000"/><rect x="456.80" y="709.48" width="9.20" height="9.71" fill="#c7e1f9"/><rect x="465.70" y="709.48" width="9.20" height="9.71" fill="#faa7a7"/><rect x="367.80" y="718.89" width="9.20" height="9.71" fill="#97c6f4"/><rect x="376.70" y="718.89" width="9.20" height="9.71" fill="#b9daf8"/><rect x="385.60" y="718.89" width="9.20" height="9.71" fill="#75b2f0"/><rect x="394.50" y="718.89" width="9.20" height="9.71" fill="#ffffff"/><rect x="403.40" y="718.89" width="9.20" height="9.71" fill="#2170e5"/><rect x="412.30" y="718.89" width="9.20" height="9.71" fill="#97c6f4"/><rect x="421.20" y="718.89" width="9.20" height="9.71" fill="#fc0000"/><rect x="430.10" y="718.89" width="9.20" height="9.71" fill="#86bcf2"/><rect x="439.00" y="718.89" width="9.20" height="9.71" fill="#f83c3c"/><rect x="447.90" y="718.89" width="9.20" height="9.71" fill="#fc0000"/><rect x="456.80" y="718.89" width="9.20" height="9.71" fill="#64a8ee"/><rect x="465.70" y="718.89" width="9.20" height="9.71" fill="#faa7a7"/><rect x="367.80" y="728.30" width="9.20" height="9.71" fill="#97c6f4"/><rect x="376.70" y="728.30" width="9.20" height="9.71" fill="#fccfcf"/><rect x="385.60" y="728.30" width="9.20" height="9.71" fill="#1d6ae4"/><rect x="394.50" y="728.30" width="9.20" height="9.71" fill="#86bcf2"/><rect x="403.40" y="728.30" width="9.20" height="9.71" fill="#c7e1f9"/><rect x="412.30" y="728.30" width="9.20" height="9.71" fill="#fde7e7"/><rect x="421.20" y="728.30" width="9.20" height="9.71" fill="#e3f0fc"/><rect x="430.10" y="728.30" width="9.20" height="9.71" fill="#f86363"/><rect x="439.00" y="728.30" width="9.20" height="9.71" fill="#ffffff"/><rect x="447.90" y="728.30" width="9.20" height="9.71" fill="#fc0000"/><rect x="456.80" y="728.30" width="9.20" height="9.71" fill="#f86363"/><rect x="465.70" y="728.30" width="9.20" height="9.71" fill="#fbc3c3"/><rect x="367.80" y="737.71" width="9.20" height="9.71" fill="#fde7e7"/><rect x="376.70" y="737.71" width="9.20" height="9.71" fill="#b9daf8"/><rect x="385.60" y="737.71" width="9.20" height="9.71" fill="#2475e6"/><rect x="394.50" y="737.71" width="9.20" height="9.71" fill="#58a0ed"/><rect x="403.40" y="737.71" width="9.20" height="9.71" fill="#175ee2"/><rect x="412.30" y="737.71" width="9.20" height="9.71" fill="#faa7a7"/><rect x="421.20" y="737.71" width="9.20" height="9.71" fill="#faa7a7"/><rect x="430.10" y="737.71" width="9.20" height="9.71" fill="#fb0c0c"/><rect x="439.00" y="737.71" width="9.20" height="9.71" fill="#fef3f3"/><rect x="447.90" y="737.71" width="9.20" height="9.71" fill="#faa7a7"/><rect x="456.80" y="737.71" width="9.20" height="9.71" fill="#fc0000"/><rect x="465.70" y="737.71" width="9.20" height="9.71" fill="#97c6f4"/></g>
<text x="486.2" y="643.61" class="m" font-size="8.8" fill="#444" textLength="27.25" lengthAdjust="spacingAndGlyphs">WNT5B</text><text x="486.2" y="653.02" class="m" font-size="8.8" fill="#444" textLength="21.80" lengthAdjust="spacingAndGlyphs">FZD3</text><text x="486.2" y="662.43" class="m" font-size="8.8" fill="#444" textLength="16.35" lengthAdjust="spacingAndGlyphs">NLK</text><text x="486.2" y="671.84" class="m" font-size="8.8" fill="#444" textLength="21.80" lengthAdjust="spacingAndGlyphs">FZD7</text><text x="486.2" y="681.25" class="m" font-size="8.8" fill="#444" textLength="16.35" lengthAdjust="spacingAndGlyphs">MYC</text><text x="486.2" y="690.66" class="m" font-size="8.8" fill="#444" textLength="27.25" lengthAdjust="spacingAndGlyphs">FRAT1</text><text x="486.2" y="700.07" class="m" font-size="8.8" fill="#444" textLength="21.80" lengthAdjust="spacingAndGlyphs">LRP5</text><text x="486.2" y="709.48" class="m" font-size="8.8" fill="#444" textLength="21.80" lengthAdjust="spacingAndGlyphs">BTRC</text><text x="486.2" y="718.89" class="m" font-size="8.8" fill="#444" textLength="21.80" lengthAdjust="spacingAndGlyphs">LEF1</text><text x="486.2" y="728.30" class="m" font-size="8.8" fill="#444" textLength="16.35" lengthAdjust="spacingAndGlyphs">JUN</text><text x="486.2" y="737.71" class="m" font-size="8.8" fill="#444" textLength="21.80" lengthAdjust="spacingAndGlyphs">FZD4</text><text x="486.2" y="747.12" class="m" font-size="8.8" fill="#444" textLength="27.25" lengthAdjust="spacingAndGlyphs">CCND1</text>
<text x="0" y="0" class="s" font-size="8.4" font-weight="bold" text-anchor="start" fill="#000" textLength="19.2" lengthAdjust="spacingAndGlyphs" transform="translate(376.70,627.8) rotate(-90)">Ctrl1</text>
<text x="0" y="0" class="s" font-size="8.4" font-weight="bold" text-anchor="start" fill="#000" textLength="19.2" lengthAdjust="spacingAndGlyphs" transform="translate(385.60,627.8) rotate(-90)">Ctrl2</text>
<text x="0" y="0" class="s" font-size="8.4" font-weight="bold" text-anchor="start" fill="#000" textLength="19.2" lengthAdjust="spacingAndGlyphs" transform="translate(394.50,627.8) rotate(-90)">Ctrl3</text>
<text x="0" y="0" class="s" font-size="8.4" font-weight="bold" text-anchor="start" fill="#000" textLength="15.4" lengthAdjust="spacingAndGlyphs" transform="translate(403.40,627.8) rotate(-90)">IM1</text>
<text x="0" y="0" class="s" font-size="8.4" font-weight="bold" text-anchor="start" fill="#000" textLength="15.4" lengthAdjust="spacingAndGlyphs" transform="translate(412.30,627.8) rotate(-90)">IM2</text>
<text x="0" y="0" class="s" font-size="8.4" font-weight="bold" text-anchor="start" fill="#000" textLength="15.4" lengthAdjust="spacingAndGlyphs" transform="translate(421.20,627.8) rotate(-90)">IM3</text>
<text x="0" y="0" class="s" font-size="8.4" font-weight="bold" text-anchor="start" fill="#000" textLength="25.0" lengthAdjust="spacingAndGlyphs" transform="translate(430.10,627.8) rotate(-90)">MSC1</text>
<text x="0" y="0" class="s" font-size="8.4" font-weight="bold" text-anchor="start" fill="#000" textLength="25.0" lengthAdjust="spacingAndGlyphs" transform="translate(439.00,627.8) rotate(-90)">MSC2</text>
<text x="0" y="0" class="s" font-size="8.4" font-weight="bold" text-anchor="start" fill="#000" textLength="25.0" lengthAdjust="spacingAndGlyphs" transform="translate(447.90,627.8) rotate(-90)">MSC3</text>
<text x="0" y="0" class="s" font-size="8.4" font-weight="bold" text-anchor="start" fill="#000" textLength="40.0" lengthAdjust="spacingAndGlyphs" transform="translate(456.80,627.8) rotate(-90)">MSC+IM1</text>
<text x="0" y="0" class="s" font-size="8.4" font-weight="bold" text-anchor="start" fill="#000" textLength="40.0" lengthAdjust="spacingAndGlyphs" transform="translate(465.70,627.8) rotate(-90)">MSC+IM2</text>
<text x="0" y="0" class="s" font-size="8.4" font-weight="bold" text-anchor="start" fill="#000" textLength="40.0" lengthAdjust="spacingAndGlyphs" transform="translate(474.60,627.8) rotate(-90)">MSC+IM3</text>
</svg></body></html>
